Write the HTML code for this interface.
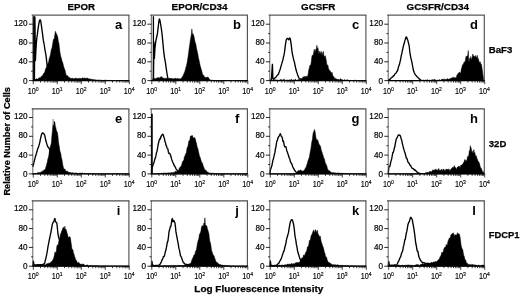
<!DOCTYPE html>
<html><head><meta charset="utf-8"><title>Figure</title>
<style>html,body{margin:0;padding:0;background:#fff;overflow:hidden}svg{display:block}</style></head>
<body>
<svg width="520" height="296" viewBox="0 0 520 296" font-family="Liberation Sans, Arial, Helvetica, sans-serif" fill="#000">
<rect width="520" height="296" fill="#fff"/>
<g>
<path d="M32.9 80.6L32.9 80.6L33.4 80.6L33.9 80.6L34.4 79.0L34.9 79.1L35.4 79.3L35.9 79.3L36.4 78.8L36.9 78.8L37.4 79.1L37.9 78.9L38.4 78.5L38.9 78.3L39.4 77.7L39.9 77.6L40.4 77.8L40.9 76.9L41.4 76.3L41.9 75.9L42.4 75.6L42.9 75.3L43.4 73.7L43.9 73.3L44.4 72.7L44.9 71.6L45.4 69.5L45.9 68.1L46.4 67.7L46.9 66.1L47.4 63.7L47.9 63.4L48.4 62.8L48.9 60.3L49.4 57.9L49.9 56.7L50.4 54.8L50.9 52.1L51.4 49.1L51.9 48.3L52.4 45.6L52.9 42.6L53.4 39.3L53.9 39.7L54.4 37.6L54.9 34.4L55.4 31.3L55.9 32.5L56.4 34.1L56.9 34.5L57.4 35.7L57.9 37.9L58.4 41.9L58.9 42.9L59.4 47.5L59.9 52.1L60.4 54.4L60.9 56.9L61.4 58.3L61.9 60.6L62.4 61.9L62.9 63.3L63.4 65.6L63.9 67.2L64.4 68.7L64.9 69.7L65.4 71.8L65.9 74.2L66.4 75.2L66.9 75.7L67.4 75.6L67.9 76.0L68.4 77.1L68.9 77.8L69.4 77.4L69.9 77.6L70.4 78.4L70.9 78.3L71.4 78.5L71.9 78.2L72.4 78.1L72.9 78.6L73.4 78.7L73.9 79.0L74.4 78.4L74.9 78.3L75.4 78.3L75.9 78.1L76.4 78.4L76.9 78.6L77.4 78.6L77.9 78.4L78.4 78.6L78.9 78.6L79.4 78.4L79.9 78.3L80.4 78.4L80.9 78.6L81.4 78.6L81.9 78.2L82.4 77.9L82.9 77.9L83.4 78.2L83.9 78.2L84.4 78.1L84.9 77.9L85.4 78.3L85.9 78.2L86.4 78.2L86.9 78.5L87.4 78.1L87.9 78.1L88.4 78.9L88.9 79.0L89.4 78.8L89.9 78.8L90.4 79.2L90.9 79.2L91.4 79.2L91.9 79.4L92.4 79.3L92.9 79.5L93.4 79.6L93.9 79.8L94.4 79.7L94.9 79.7L95.4 79.8L95.9 80.0L96.4 80.0L96.9 79.9L97.4 80.0L97.9 80.1L98.4 80.0L98.9 80.1L99.4 80.1L99.9 80.0L100.4 80.1L100.9 80.2L101.4 80.2L101.9 80.2L102.4 80.4L102.9 80.4L103.4 80.5L103.9 80.4L104.4 80.3L104.9 80.2L105.4 80.1L105.9 80.2L106.4 80.3L106.9 80.3L107.4 80.4L107.9 80.5L108.4 80.5L108.9 80.4L109.4 80.4L109.9 80.4L110.4 80.4L110.9 80.4L111.4 80.6L111.9 80.6L112.4 80.6L112.9 80.6L113.4 80.6L113.9 80.6L114.4 80.6L114.9 80.6L115.4 80.6L115.9 80.6L116.4 80.6L116.9 80.6L117.4 80.6L117.9 80.6L118.4 80.6L118.9 80.6L119.4 80.6L119.9 80.6L120.4 80.6L120.9 80.6L121.4 80.6L121.9 80.6L122.4 80.6L122.9 80.6L123.4 80.6L123.9 80.6L124.4 80.6L124.9 80.6L125.4 80.6L125.9 80.6L126.4 80.6L126.9 80.6L127.4 80.6L127.9 80.6L128.4 80.6L128.9 80.6L128.9 80.6Z" stroke="#000" stroke-width="0.5" stroke-linejoin="round"/>
<path d="M34.4 80.6L34.9 17.0L35.4 60.6L35.9 50.3L36.4 42.5L36.9 37.3L37.4 34.2L37.9 29.9L38.4 26.6L38.9 23.5L39.4 21.0L39.9 19.9L40.4 19.9L40.9 22.1L41.4 25.6L41.9 29.3L42.4 32.8L42.9 36.8L43.4 40.7L43.9 43.0L44.4 46.0L44.9 49.6L45.4 52.2L45.9 54.9L46.4 58.9L46.9 63.4L47.4 67.0L47.9 70.5L48.4 74.2L48.9 77.5L49.4 79.2L49.9 80.4L50.4 80.6" fill="none" stroke="#000" stroke-width="1.35" stroke-linejoin="round"/>
<path d="M31.7 15.1H129.4" fill="none" stroke="#222" stroke-width="0.95"/>
<path d="M128.9 15.1V80.6" fill="none" stroke="#505050" stroke-width="1.15"/>
<path d="M32.8 15.1V81.1" stroke="#444" stroke-width="0.85"/>
<path d="M34.0 16.2V80.6" stroke="#000" stroke-width="1.8"/>
<path d="M32.4 80.6H129.4" stroke="#000" stroke-width="1.3"/>
<path d="M32.9 80.6h-4M32.9 61.8h-4M32.9 43.0h-4M32.9 24.2h-4M32.9 71.2h-1.8M32.9 52.4h-1.8M32.9 33.6h-1.8" stroke="#111" stroke-width="0.9"/>
<path d="M33.3 80.6v3.6M40.5 80.6v2M44.8 80.6v2M47.7 80.6v2M50.1 80.6v2M52.0 80.6v2M53.6 80.6v2M55.0 80.6v2M56.2 80.6v2M57.3 80.6v3.6M64.5 80.6v2M68.8 80.6v2M71.7 80.6v2M74.1 80.6v2M76.0 80.6v2M77.6 80.6v2M79.0 80.6v2M80.2 80.6v2M81.3 80.6v3.6M88.5 80.6v2M92.8 80.6v2M95.7 80.6v2M98.1 80.6v2M100.0 80.6v2M101.6 80.6v2M103.0 80.6v2M104.2 80.6v2M105.3 80.6v3.6M112.5 80.6v2M116.8 80.6v2M119.7 80.6v2M122.1 80.6v2M124.0 80.6v2M125.6 80.6v2M127.0 80.6v2M128.2 80.6v2M129.3 80.6v3.6" stroke="#111" stroke-width="0.8"/>
<text x="27.6" y="83.8" font-size="8.2" text-anchor="end" stroke="#000" stroke-width="0.18">0</text>
<text x="27.6" y="64.4" font-size="8.2" text-anchor="end" stroke="#000" stroke-width="0.18">40</text>
<text x="27.6" y="45.1" font-size="8.2" text-anchor="end" stroke="#000" stroke-width="0.18">80</text>
<text x="27.6" y="25.7" font-size="8.2" text-anchor="end" stroke="#000" stroke-width="0.18">120</text>
<text x="33.1" y="93.5" font-size="8.3" text-anchor="middle" textLength="10.9" lengthAdjust="spacingAndGlyphs" stroke="#000" stroke-width="0.15">10<tspan font-size="5.8" dy="-2.7">0</tspan></text>
<text x="57.1" y="93.5" font-size="8.3" text-anchor="middle" textLength="10.9" lengthAdjust="spacingAndGlyphs" stroke="#000" stroke-width="0.15">10<tspan font-size="5.8" dy="-2.7">1</tspan></text>
<text x="81.1" y="93.5" font-size="8.3" text-anchor="middle" textLength="10.9" lengthAdjust="spacingAndGlyphs" stroke="#000" stroke-width="0.15">10<tspan font-size="5.8" dy="-2.7">2</tspan></text>
<text x="105.1" y="93.5" font-size="8.3" text-anchor="middle" textLength="10.9" lengthAdjust="spacingAndGlyphs" stroke="#000" stroke-width="0.15">10<tspan font-size="5.8" dy="-2.7">3</tspan></text>
<text x="129.1" y="93.5" font-size="8.3" text-anchor="middle" textLength="10.9" lengthAdjust="spacingAndGlyphs" stroke="#000" stroke-width="0.15">10<tspan font-size="5.8" dy="-2.7">4</tspan></text>
<text x="118.6" y="29.2" font-size="13" font-weight="bold" text-anchor="middle">a</text>
</g>
<g>
<path d="M151.4 80.6L151.4 80.6L151.9 80.6L152.4 80.6L152.9 78.7L153.4 78.6L153.9 78.4L154.4 78.4L154.9 78.4L155.4 78.6L155.9 78.4L156.4 78.2L156.9 78.0L157.4 77.6L157.9 78.1L158.4 77.7L158.9 77.6L159.4 77.9L159.9 77.6L160.4 77.3L160.9 77.0L161.4 76.4L161.9 77.4L162.4 77.8L162.9 77.6L163.4 77.9L163.9 78.4L164.4 78.4L164.9 78.3L165.4 78.3L165.9 78.5L166.4 78.2L166.9 78.3L167.4 78.3L167.9 78.7L168.4 79.3L168.9 78.8L169.4 78.5L169.9 78.5L170.4 78.6L170.9 78.7L171.4 78.8L171.9 78.5L172.4 78.7L172.9 78.9L173.4 78.8L173.9 78.7L174.4 78.2L174.9 78.6L175.4 78.3L175.9 78.4L176.4 78.7L176.9 78.8L177.4 78.6L177.9 78.3L178.4 78.7L178.9 78.8L179.4 78.8L179.9 78.9L180.4 79.0L180.9 78.6L181.4 77.9L181.9 77.4L182.4 76.9L182.9 76.0L183.4 74.8L183.9 73.8L184.4 72.4L184.9 71.2L185.4 69.4L185.9 67.4L186.4 65.9L186.9 63.6L187.4 61.1L187.9 57.8L188.4 54.3L188.9 50.4L189.4 46.6L189.9 43.5L190.4 39.6L190.9 37.1L191.4 34.0L191.9 28.9L192.4 35.0L192.9 33.5L193.4 34.8L193.9 36.1L194.4 38.4L194.9 41.2L195.4 43.0L195.9 44.3L196.4 47.7L196.9 50.1L197.4 52.1L197.9 54.6L198.4 57.7L198.9 59.6L199.4 62.0L199.9 64.5L200.4 66.5L200.9 68.1L201.4 69.9L201.9 71.5L202.4 73.7L202.9 74.8L203.4 75.1L203.9 75.7L204.4 76.9L204.9 77.3L205.4 77.3L205.9 77.6L206.4 77.5L206.9 77.2L207.4 77.3L207.9 76.9L208.4 77.4L208.9 78.4L209.4 79.1L209.9 79.8L210.4 80.0L210.9 80.1L211.4 80.2L211.9 80.2L212.4 80.2L212.9 80.4L213.4 80.4L213.9 80.6L214.4 80.6L214.9 80.6L215.4 80.6L215.9 80.6L216.4 80.6L216.9 80.6L217.4 80.6L217.9 80.6L218.4 80.6L218.9 80.6L219.4 80.6L219.9 80.6L220.4 80.6L220.9 80.6L221.4 80.6L221.9 80.6L222.4 80.6L222.9 80.6L223.4 80.6L223.9 80.6L224.4 80.6L224.9 80.6L225.4 80.6L225.9 80.6L226.4 80.6L226.9 80.6L227.4 80.6L227.9 80.6L228.4 80.6L228.9 80.6L229.4 80.6L229.9 80.6L230.4 80.6L230.9 80.6L231.4 80.6L231.9 80.6L232.4 80.6L232.9 80.6L233.4 80.6L233.9 80.6L234.4 80.6L234.9 80.6L235.4 80.6L235.9 80.6L236.4 80.6L236.9 80.6L237.4 80.6L237.9 80.6L238.4 80.6L238.9 80.6L239.4 80.6L239.9 80.6L240.4 80.6L240.9 80.6L241.4 80.6L241.9 80.6L242.4 80.6L242.9 80.6L243.4 80.6L243.9 80.6L244.4 80.6L244.9 80.6L245.4 80.6L245.9 80.6L246.4 80.6L246.9 80.6L247.4 80.6L247.4 80.6Z" stroke="#000" stroke-width="0.5" stroke-linejoin="round"/>
<path d="M153.4 80.6L153.9 41.9L154.4 58.4L154.9 48.8L155.4 44.5L155.9 40.7L156.4 38.4L156.9 36.0L157.4 34.0L157.9 29.7L158.4 25.5L158.9 21.0L159.4 19.0L159.9 20.0L160.4 23.0L160.9 25.9L161.4 28.8L161.9 33.0L162.4 37.6L162.9 42.9L163.4 48.4L163.9 53.2L164.4 56.8L164.9 59.8L165.4 62.3L165.9 66.2L166.4 69.6L166.9 73.0L167.4 75.8L167.9 78.4L168.4 79.3L168.9 79.2L169.4 79.2L169.9 79.2L170.4 79.2L170.9 79.1L171.4 79.2L171.9 79.5L172.4 79.5L172.9 79.7L173.4 79.9L173.9 80.0L174.4 80.2L174.9 80.5L175.4 80.6" fill="none" stroke="#000" stroke-width="1.35" stroke-linejoin="round"/>
<path d="M150.2 15.1H247.9" fill="none" stroke="#222" stroke-width="0.95"/>
<path d="M247.4 15.1V80.6" fill="none" stroke="#505050" stroke-width="1.15"/>
<path d="M151.3 15.1V81.1" stroke="#444" stroke-width="0.85"/>
<path d="M153.4 16.2V80.6" stroke="#000" stroke-width="1.3"/>
<path d="M150.9 80.6H247.9" stroke="#000" stroke-width="1.3"/>
<path d="M151.4 80.6h-4M151.4 61.8h-4M151.4 43.0h-4M151.4 24.2h-4M151.4 71.2h-1.8M151.4 52.4h-1.8M151.4 33.6h-1.8" stroke="#111" stroke-width="0.9"/>
<path d="M151.8 80.6v3.6M159.0 80.6v2M163.3 80.6v2M166.2 80.6v2M168.6 80.6v2M170.5 80.6v2M172.1 80.6v2M173.5 80.6v2M174.7 80.6v2M175.8 80.6v3.6M183.0 80.6v2M187.3 80.6v2M190.2 80.6v2M192.6 80.6v2M194.5 80.6v2M196.1 80.6v2M197.5 80.6v2M198.7 80.6v2M199.8 80.6v3.6M207.0 80.6v2M211.3 80.6v2M214.2 80.6v2M216.6 80.6v2M218.5 80.6v2M220.1 80.6v2M221.5 80.6v2M222.7 80.6v2M223.8 80.6v3.6M231.0 80.6v2M235.3 80.6v2M238.2 80.6v2M240.6 80.6v2M242.5 80.6v2M244.1 80.6v2M245.5 80.6v2M246.7 80.6v2M247.8 80.6v3.6" stroke="#111" stroke-width="0.8"/>
<text x="146.1" y="83.8" font-size="8.2" text-anchor="end" stroke="#000" stroke-width="0.18">0</text>
<text x="146.1" y="64.4" font-size="8.2" text-anchor="end" stroke="#000" stroke-width="0.18">40</text>
<text x="146.1" y="45.1" font-size="8.2" text-anchor="end" stroke="#000" stroke-width="0.18">80</text>
<text x="146.1" y="25.7" font-size="8.2" text-anchor="end" stroke="#000" stroke-width="0.18">120</text>
<text x="151.6" y="93.5" font-size="8.3" text-anchor="middle" textLength="10.9" lengthAdjust="spacingAndGlyphs" stroke="#000" stroke-width="0.15">10<tspan font-size="5.8" dy="-2.7">0</tspan></text>
<text x="175.6" y="93.5" font-size="8.3" text-anchor="middle" textLength="10.9" lengthAdjust="spacingAndGlyphs" stroke="#000" stroke-width="0.15">10<tspan font-size="5.8" dy="-2.7">1</tspan></text>
<text x="199.6" y="93.5" font-size="8.3" text-anchor="middle" textLength="10.9" lengthAdjust="spacingAndGlyphs" stroke="#000" stroke-width="0.15">10<tspan font-size="5.8" dy="-2.7">2</tspan></text>
<text x="223.6" y="93.5" font-size="8.3" text-anchor="middle" textLength="10.9" lengthAdjust="spacingAndGlyphs" stroke="#000" stroke-width="0.15">10<tspan font-size="5.8" dy="-2.7">3</tspan></text>
<text x="247.6" y="93.5" font-size="8.3" text-anchor="middle" textLength="10.9" lengthAdjust="spacingAndGlyphs" stroke="#000" stroke-width="0.15">10<tspan font-size="5.8" dy="-2.7">4</tspan></text>
<text x="237.1" y="29.2" font-size="13" font-weight="bold" text-anchor="middle">b</text>
</g>
<g>
<path d="M269.9 80.6L269.9 80.6L270.4 80.6L270.9 80.6L271.4 80.6L271.9 80.5L272.4 80.2L272.9 79.7L273.4 79.6L273.9 79.6L274.4 79.8L274.9 80.1L275.4 79.9L275.9 79.8L276.4 79.9L276.9 80.2L277.4 80.1L277.9 79.9L278.4 80.2L278.9 80.2L279.4 80.3L279.9 79.7L280.4 79.5L280.9 79.8L281.4 79.7L281.9 79.7L282.4 80.0L282.9 80.0L283.4 79.9L283.9 78.9L284.4 79.6L284.9 80.6L285.4 80.1L285.9 80.1L286.4 80.5L286.9 79.8L287.4 79.9L287.9 80.4L288.4 80.1L288.9 80.2L289.4 79.9L289.9 80.0L290.4 80.0L290.9 79.5L291.4 79.1L291.9 80.2L292.4 80.4L292.9 80.1L293.4 79.7L293.9 79.9L294.4 80.2L294.9 79.6L295.4 79.3L295.9 79.6L296.4 80.5L296.9 80.3L297.4 80.3L297.9 79.6L298.4 79.4L298.9 79.7L299.4 79.6L299.9 79.6L300.4 79.9L300.9 79.2L301.4 78.5L301.9 79.5L302.4 78.2L302.9 76.9L303.4 77.1L303.9 76.6L304.4 77.0L304.9 76.2L305.4 76.5L305.9 77.8L306.4 76.3L306.9 76.0L307.4 76.9L307.9 75.3L308.4 72.4L308.9 69.3L309.4 67.5L309.9 65.3L310.4 65.2L310.9 64.6L311.4 60.4L311.9 56.4L312.4 55.1L312.9 55.5L313.4 54.3L313.9 51.0L314.4 49.3L314.9 52.5L315.4 50.7L315.9 48.9L316.4 49.3L316.9 45.3L317.4 49.3L317.9 47.7L318.4 50.6L318.9 54.1L319.4 52.6L319.9 51.1L320.4 53.7L320.9 52.8L321.4 51.6L321.9 54.5L322.4 54.8L322.9 51.9L323.4 51.4L323.9 56.1L324.4 56.2L324.9 56.9L325.4 55.7L325.9 58.8L326.4 61.3L326.9 65.2L327.4 64.8L327.9 65.4L328.4 68.1L328.9 69.4L329.4 69.9L329.9 71.1L330.4 71.1L330.9 72.4L331.4 73.8L331.9 72.0L332.4 74.0L332.9 75.8L333.4 76.3L333.9 77.1L334.4 77.6L334.9 78.8L335.4 78.5L335.9 78.4L336.4 78.8L336.9 79.5L337.4 79.0L337.9 79.5L338.4 79.6L338.9 79.6L339.4 80.1L339.9 79.2L340.4 78.7L340.9 78.9L341.4 79.4L341.9 79.9L342.4 79.8L342.9 79.8L343.4 80.4L343.9 79.9L344.4 79.5L344.9 80.0L345.4 80.4L345.9 80.2L346.4 80.1L346.9 79.6L347.4 79.8L347.9 80.3L348.4 80.2L348.9 80.4L349.4 80.6L349.9 80.3L350.4 80.3L350.9 80.6L351.4 80.6L351.9 80.5L352.4 80.6L352.9 80.5L353.4 80.4L353.9 80.4L354.4 80.5L354.9 80.4L355.4 80.1L355.9 80.1L356.4 80.5L356.9 80.6L357.4 80.5L357.9 80.4L358.4 80.6L358.9 80.6L359.4 80.6L359.9 80.6L360.4 80.6L360.9 80.6L361.4 80.6L361.9 80.6L362.4 80.6L362.9 80.6L363.4 80.6L363.9 80.6L364.4 80.6L364.9 80.6L365.4 80.6L365.9 80.6L365.9 80.6Z" stroke="#000" stroke-width="0.5" stroke-linejoin="round"/>
<path d="M269.9 80.6L270.4 79.8L270.9 79.7L271.4 79.3L271.9 72.0L272.4 64.3L272.9 78.6L273.4 79.1L273.9 79.1L274.4 78.6L274.9 78.0L275.4 77.6L275.9 77.2L276.4 76.5L276.9 75.7L277.4 75.3L277.9 74.7L278.4 74.2L278.9 72.7L279.4 71.5L279.9 70.1L280.4 68.7L280.9 66.7L281.4 64.8L281.9 63.4L282.4 61.3L282.9 59.9L283.4 57.3L283.9 55.4L284.4 52.8L284.9 48.9L285.4 45.1L285.9 41.7L286.4 39.4L286.9 38.8L287.4 38.4L287.9 38.6L288.4 39.5L288.9 39.8L289.4 38.1L289.9 38.0L290.4 39.3L290.9 42.6L291.4 46.1L291.9 51.1L292.4 54.0L292.9 56.1L293.4 58.7L293.9 60.6L294.4 62.1L294.9 64.6L295.4 67.0L295.9 69.3L296.4 71.0L296.9 72.6L297.4 74.1L297.9 75.6L298.4 76.7L298.9 77.8L299.4 78.5L299.9 78.9L300.4 79.0L300.9 79.2L301.4 79.4L301.9 79.3L302.4 79.2L302.9 79.3L303.4 79.7L303.9 79.7L304.4 79.7L304.9 79.7L305.4 79.7L305.9 79.5L306.4 79.7L306.9 79.9L307.4 79.9L307.9 80.0L308.4 80.2L308.9 80.3L309.4 80.5L309.9 80.6L310.4 80.6" fill="none" stroke="#000" stroke-width="1.35" stroke-linejoin="round"/>
<path d="M268.7 15.1H366.4" fill="none" stroke="#222" stroke-width="0.95"/>
<path d="M365.9 15.1V80.6" fill="none" stroke="#505050" stroke-width="1.15"/>
<path d="M269.8 15.1V81.1" stroke="#444" stroke-width="0.85"/>
<path d="M269.4 80.6H366.4" stroke="#000" stroke-width="1.3"/>
<path d="M269.9 80.6h-4M269.9 61.8h-4M269.9 43.0h-4M269.9 24.2h-4M269.9 71.2h-1.8M269.9 52.4h-1.8M269.9 33.6h-1.8" stroke="#111" stroke-width="0.9"/>
<path d="M270.3 80.6v3.6M277.5 80.6v2M281.8 80.6v2M284.7 80.6v2M287.1 80.6v2M289.0 80.6v2M290.6 80.6v2M292.0 80.6v2M293.2 80.6v2M294.3 80.6v3.6M301.5 80.6v2M305.8 80.6v2M308.7 80.6v2M311.1 80.6v2M313.0 80.6v2M314.6 80.6v2M316.0 80.6v2M317.2 80.6v2M318.3 80.6v3.6M325.5 80.6v2M329.8 80.6v2M332.7 80.6v2M335.1 80.6v2M337.0 80.6v2M338.6 80.6v2M340.0 80.6v2M341.2 80.6v2M342.3 80.6v3.6M349.5 80.6v2M353.8 80.6v2M356.7 80.6v2M359.1 80.6v2M361.0 80.6v2M362.6 80.6v2M364.0 80.6v2M365.2 80.6v2M366.3 80.6v3.6" stroke="#111" stroke-width="0.8"/>
<text x="264.6" y="83.8" font-size="8.2" text-anchor="end" stroke="#000" stroke-width="0.18">0</text>
<text x="264.6" y="64.4" font-size="8.2" text-anchor="end" stroke="#000" stroke-width="0.18">40</text>
<text x="264.6" y="45.1" font-size="8.2" text-anchor="end" stroke="#000" stroke-width="0.18">80</text>
<text x="264.6" y="25.7" font-size="8.2" text-anchor="end" stroke="#000" stroke-width="0.18">120</text>
<text x="270.1" y="93.5" font-size="8.3" text-anchor="middle" textLength="10.9" lengthAdjust="spacingAndGlyphs" stroke="#000" stroke-width="0.15">10<tspan font-size="5.8" dy="-2.7">0</tspan></text>
<text x="294.1" y="93.5" font-size="8.3" text-anchor="middle" textLength="10.9" lengthAdjust="spacingAndGlyphs" stroke="#000" stroke-width="0.15">10<tspan font-size="5.8" dy="-2.7">1</tspan></text>
<text x="318.1" y="93.5" font-size="8.3" text-anchor="middle" textLength="10.9" lengthAdjust="spacingAndGlyphs" stroke="#000" stroke-width="0.15">10<tspan font-size="5.8" dy="-2.7">2</tspan></text>
<text x="342.1" y="93.5" font-size="8.3" text-anchor="middle" textLength="10.9" lengthAdjust="spacingAndGlyphs" stroke="#000" stroke-width="0.15">10<tspan font-size="5.8" dy="-2.7">3</tspan></text>
<text x="366.1" y="93.5" font-size="8.3" text-anchor="middle" textLength="10.9" lengthAdjust="spacingAndGlyphs" stroke="#000" stroke-width="0.15">10<tspan font-size="5.8" dy="-2.7">4</tspan></text>
<text x="355.6" y="29.2" font-size="13" font-weight="bold" text-anchor="middle">c</text>
</g>
<g>
<path d="M388.3 80.6L388.3 80.6L388.8 80.6L389.3 80.6L389.8 80.6L390.3 80.6L390.8 80.6L391.3 80.6L391.8 80.6L392.3 80.6L392.8 80.6L393.3 80.6L393.8 80.6L394.3 80.6L394.8 80.6L395.3 80.6L395.8 80.6L396.3 80.6L396.8 80.6L397.3 80.6L397.8 80.6L398.3 80.6L398.8 80.6L399.3 80.6L399.8 80.6L400.3 80.6L400.8 80.6L401.3 80.6L401.8 80.6L402.3 80.6L402.8 80.6L403.3 80.6L403.8 80.6L404.3 80.6L404.8 80.6L405.3 80.6L405.8 80.6L406.3 80.6L406.8 80.6L407.3 80.6L407.8 80.6L408.3 80.6L408.8 80.6L409.3 80.6L409.8 80.6L410.3 80.6L410.8 80.6L411.3 80.6L411.8 80.6L412.3 80.6L412.8 80.6L413.3 80.6L413.8 80.6L414.3 80.6L414.8 80.6L415.3 80.6L415.8 80.6L416.3 80.6L416.8 80.6L417.3 80.6L417.8 80.6L418.3 80.4L418.8 80.5L419.3 80.6L419.8 80.2L420.3 80.2L420.8 79.9L421.3 80.0L421.8 80.1L422.3 80.0L422.8 80.4L423.3 80.2L423.8 80.0L424.3 80.3L424.8 80.3L425.3 80.1L425.8 80.0L426.3 80.0L426.8 80.0L427.3 79.8L427.8 80.0L428.3 80.2L428.8 80.3L429.3 80.1L429.8 80.2L430.3 80.5L430.8 80.6L431.3 79.9L431.8 79.8L432.3 79.7L432.8 79.7L433.3 80.0L433.8 79.6L434.3 79.4L434.8 79.2L435.3 80.0L435.8 80.3L436.3 80.0L436.8 80.5L437.3 80.2L437.8 80.1L438.3 80.3L438.8 80.4L439.3 79.7L439.8 79.5L440.3 80.2L440.8 80.6L441.3 79.7L441.8 79.1L442.3 79.5L442.8 79.0L443.3 79.1L443.8 79.4L444.3 79.1L444.8 79.4L445.3 79.8L445.8 79.2L446.3 79.1L446.8 79.4L447.3 78.7L447.8 78.7L448.3 79.5L448.8 79.0L449.3 78.8L449.8 78.9L450.3 79.0L450.8 78.2L451.3 78.2L451.8 77.7L452.3 77.5L452.8 78.2L453.3 77.5L453.8 76.9L454.3 77.5L454.8 78.3L455.3 77.8L455.8 77.4L456.3 78.1L456.8 75.2L457.3 75.0L457.8 74.0L458.3 72.9L458.8 72.9L459.3 72.5L459.8 71.9L460.3 72.9L460.8 73.2L461.3 69.1L461.8 67.8L462.3 65.5L462.8 64.4L463.3 64.3L463.8 63.0L464.3 61.7L464.8 62.4L465.3 60.8L465.8 57.4L466.3 56.0L466.8 57.6L467.3 55.7L467.8 55.1L468.3 50.5L468.8 61.4L469.3 60.8L469.8 58.1L470.3 58.9L470.8 56.6L471.3 59.5L471.8 58.8L472.3 56.5L472.8 54.0L473.3 55.9L473.8 56.3L474.3 56.6L474.8 56.3L475.3 55.4L475.8 56.7L476.3 57.2L476.8 57.0L477.3 55.3L477.8 58.9L478.3 58.6L478.8 60.4L479.3 62.1L479.8 63.0L480.3 61.8L480.8 64.6L481.3 64.0L481.8 66.7L482.3 70.0L482.8 73.7L483.3 77.1L483.8 80.6L484.3 80.6L484.3 80.6Z" stroke="#000" stroke-width="0.5" stroke-linejoin="round"/>
<path d="M388.3 80.6L388.8 79.6L389.3 79.5L389.8 79.4L390.3 78.9L390.8 78.2L391.3 77.8L391.8 77.5L392.3 76.9L392.8 76.8L393.3 75.9L393.8 75.6L394.3 75.3L394.8 74.0L395.3 73.7L395.8 73.3L396.3 72.6L396.8 71.5L397.3 71.0L397.8 69.9L398.3 67.6L398.8 66.1L399.3 64.8L399.8 62.8L400.3 60.7L400.8 58.3L401.3 55.4L401.8 53.7L402.3 51.0L402.8 48.8L403.3 46.5L403.8 44.5L404.3 43.1L404.8 40.9L405.3 39.4L405.8 37.4L406.3 37.0L406.8 37.4L407.3 39.4L407.8 40.1L408.3 42.3L408.8 44.3L409.3 46.7L409.8 51.9L410.3 55.0L410.8 57.6L411.3 59.8L411.8 61.7L412.3 64.5L412.8 67.2L413.3 69.8L413.8 71.6L414.3 72.8L414.8 73.7L415.3 74.7L415.8 75.2L416.3 75.6L416.8 76.4L417.3 77.0L417.8 77.3L418.3 77.9L418.8 78.5L419.3 78.8L419.8 79.2L420.3 79.8L420.8 80.4L421.3 80.6" fill="none" stroke="#000" stroke-width="1.35" stroke-linejoin="round"/>
<path d="M387.1 15.1H484.8" fill="none" stroke="#222" stroke-width="0.95"/>
<path d="M484.3 15.1V80.6" fill="none" stroke="#505050" stroke-width="1.15"/>
<path d="M388.2 15.1V81.1" stroke="#444" stroke-width="0.85"/>
<path d="M387.8 80.6H484.8" stroke="#000" stroke-width="1.3"/>
<path d="M388.3 80.6h-4M388.3 61.8h-4M388.3 43.0h-4M388.3 24.2h-4M388.3 71.2h-1.8M388.3 52.4h-1.8M388.3 33.6h-1.8" stroke="#111" stroke-width="0.9"/>
<path d="M388.7 80.6v3.6M395.9 80.6v2M400.2 80.6v2M403.1 80.6v2M405.5 80.6v2M407.4 80.6v2M409.0 80.6v2M410.4 80.6v2M411.6 80.6v2M412.7 80.6v3.6M419.9 80.6v2M424.2 80.6v2M427.1 80.6v2M429.5 80.6v2M431.4 80.6v2M433.0 80.6v2M434.4 80.6v2M435.6 80.6v2M436.7 80.6v3.6M443.9 80.6v2M448.2 80.6v2M451.1 80.6v2M453.5 80.6v2M455.4 80.6v2M457.0 80.6v2M458.4 80.6v2M459.6 80.6v2M460.7 80.6v3.6M467.9 80.6v2M472.2 80.6v2M475.1 80.6v2M477.5 80.6v2M479.4 80.6v2M481.0 80.6v2M482.4 80.6v2M483.6 80.6v2M484.7 80.6v3.6" stroke="#111" stroke-width="0.8"/>
<text x="383.0" y="83.8" font-size="8.2" text-anchor="end" stroke="#000" stroke-width="0.18">0</text>
<text x="383.0" y="64.4" font-size="8.2" text-anchor="end" stroke="#000" stroke-width="0.18">40</text>
<text x="383.0" y="45.1" font-size="8.2" text-anchor="end" stroke="#000" stroke-width="0.18">80</text>
<text x="383.0" y="25.7" font-size="8.2" text-anchor="end" stroke="#000" stroke-width="0.18">120</text>
<text x="388.5" y="93.5" font-size="8.3" text-anchor="middle" textLength="10.9" lengthAdjust="spacingAndGlyphs" stroke="#000" stroke-width="0.15">10<tspan font-size="5.8" dy="-2.7">0</tspan></text>
<text x="412.5" y="93.5" font-size="8.3" text-anchor="middle" textLength="10.9" lengthAdjust="spacingAndGlyphs" stroke="#000" stroke-width="0.15">10<tspan font-size="5.8" dy="-2.7">1</tspan></text>
<text x="436.5" y="93.5" font-size="8.3" text-anchor="middle" textLength="10.9" lengthAdjust="spacingAndGlyphs" stroke="#000" stroke-width="0.15">10<tspan font-size="5.8" dy="-2.7">2</tspan></text>
<text x="460.5" y="93.5" font-size="8.3" text-anchor="middle" textLength="10.9" lengthAdjust="spacingAndGlyphs" stroke="#000" stroke-width="0.15">10<tspan font-size="5.8" dy="-2.7">3</tspan></text>
<text x="484.5" y="93.5" font-size="8.3" text-anchor="middle" textLength="10.9" lengthAdjust="spacingAndGlyphs" stroke="#000" stroke-width="0.15">10<tspan font-size="5.8" dy="-2.7">4</tspan></text>
<text x="474.0" y="29.2" font-size="13" font-weight="bold" text-anchor="middle">d</text>
</g>
<g>
<path d="M32.9 173.9L32.9 173.9L33.4 173.9L33.9 173.8L34.4 173.5L34.9 173.6L35.4 173.6L35.9 173.2L36.4 173.4L36.9 173.2L37.4 172.8L37.9 172.7L38.4 172.6L38.9 172.6L39.4 172.7L39.9 172.4L40.4 172.5L40.9 172.0L41.4 171.7L41.9 171.9L42.4 171.2L42.9 170.6L43.4 170.7L43.9 170.6L44.4 169.7L44.9 169.6L45.4 169.1L45.9 167.0L46.4 165.5L46.9 163.4L47.4 161.5L47.9 158.7L48.4 157.6L48.9 154.7L49.4 151.3L49.9 148.8L50.4 146.1L50.9 145.1L51.4 142.5L51.9 136.1L52.4 130.8L52.9 124.9L53.4 125.3L53.9 122.2L54.4 121.3L54.9 122.6L55.4 126.8L55.9 127.7L56.4 131.1L56.9 131.3L57.4 132.5L57.9 135.7L58.4 141.1L58.9 144.7L59.4 147.1L59.9 151.0L60.4 152.3L60.9 154.2L61.4 157.9L61.9 159.2L62.4 162.5L62.9 165.4L63.4 167.5L63.9 169.0L64.4 169.2L64.9 168.9L65.4 170.1L65.9 171.0L66.4 171.3L66.9 171.3L67.4 171.1L67.9 171.7L68.4 172.3L68.9 172.2L69.4 172.2L69.9 172.5L70.4 172.6L70.9 172.8L71.4 172.8L71.9 173.0L72.4 172.7L72.9 172.4L73.4 173.1L73.9 173.5L74.4 173.3L74.9 173.1L75.4 172.9L75.9 173.0L76.4 173.0L76.9 173.3L77.4 173.4L77.9 173.3L78.4 173.4L78.9 173.5L79.4 173.3L79.9 173.2L80.4 173.1L80.9 173.5L81.4 173.3L81.9 173.0L82.4 172.9L82.9 173.2L83.4 173.5L83.9 173.4L84.4 173.4L84.9 173.3L85.4 173.7L85.9 173.7L86.4 173.5L86.9 173.6L87.4 173.7L87.9 173.5L88.4 173.4L88.9 173.7L89.4 173.5L89.9 173.6L90.4 173.8L90.9 173.8L91.4 173.8L91.9 173.7L92.4 173.7L92.9 173.7L93.4 173.8L93.9 173.7L94.4 173.8L94.9 173.8L95.4 173.9L95.9 173.9L96.4 173.9L96.9 173.9L97.4 173.9L97.9 173.9L98.4 173.9L98.9 173.9L99.4 173.9L99.9 173.9L100.4 173.9L100.9 173.9L101.4 173.9L101.9 173.9L102.4 173.9L102.9 173.9L103.4 173.9L103.9 173.9L104.4 173.9L104.9 173.9L105.4 173.9L105.9 173.9L106.4 173.9L106.9 173.9L107.4 173.9L107.9 173.9L108.4 173.9L108.9 173.9L109.4 173.9L109.9 173.9L110.4 173.9L110.9 173.9L111.4 173.9L111.9 173.9L112.4 173.9L112.9 173.9L113.4 173.9L113.9 173.9L114.4 173.9L114.9 173.9L115.4 173.9L115.9 173.9L116.4 173.9L116.9 173.9L117.4 173.9L117.9 173.9L118.4 173.9L118.9 173.9L119.4 173.9L119.9 173.9L120.4 173.9L120.9 173.9L121.4 173.9L121.9 173.9L122.4 173.9L122.9 173.9L123.4 173.9L123.9 173.9L124.4 173.9L124.9 173.9L125.4 173.9L125.9 173.9L126.4 173.9L126.9 173.9L127.4 173.9L127.9 173.9L128.4 173.9L128.9 173.9L128.9 173.9Z" stroke="#000" stroke-width="0.5" stroke-linejoin="round"/>
<path d="M32.9 166.9L33.4 164.9L33.9 162.6L34.4 160.7L34.9 158.7L35.4 156.6L35.9 155.3L36.4 153.3L36.9 151.8L37.4 149.8L37.9 148.2L38.4 147.3L38.9 145.7L39.4 143.8L39.9 141.8L40.4 139.1L40.9 137.0L41.4 134.9L41.9 133.7L42.4 133.0L42.9 132.9L43.4 133.4L43.9 133.8L44.4 134.8L44.9 136.0L45.4 138.6L45.9 140.8L46.4 142.6L46.9 144.1L47.4 146.1L47.9 146.7L48.4 147.5L48.9 148.2L49.4 148.7L49.9 150.3L50.4 154.3L50.9 157.3L51.4 159.8L51.9 162.4L52.4 165.0L52.9 167.2L53.4 168.9L53.9 170.2L54.4 171.4L54.9 172.5L55.4 173.2L55.9 173.9L56.4 173.9" fill="none" stroke="#000" stroke-width="1.35" stroke-linejoin="round"/>
<path d="M31.7 108.9H129.4" fill="none" stroke="#4a4a4a" stroke-width="1.25"/>
<path d="M128.9 108.9V173.9" fill="none" stroke="#505050" stroke-width="1.15"/>
<path d="M32.8 108.9V174.4" stroke="#444" stroke-width="0.85"/>
<path d="M53.1 125.5V118.9" stroke="#8a8a8a" stroke-width="1.1"/>
<path d="M32.4 173.9H129.4" stroke="#000" stroke-width="1.3"/>
<path d="M32.9 173.9h-4M32.9 155.1h-4M32.9 136.3h-4M32.9 117.5h-4M32.9 164.5h-1.8M32.9 145.7h-1.8M32.9 126.9h-1.8" stroke="#111" stroke-width="0.9"/>
<path d="M33.3 173.9v3.6M40.5 173.9v2M44.8 173.9v2M47.7 173.9v2M50.1 173.9v2M52.0 173.9v2M53.6 173.9v2M55.0 173.9v2M56.2 173.9v2M57.3 173.9v3.6M64.5 173.9v2M68.8 173.9v2M71.7 173.9v2M74.1 173.9v2M76.0 173.9v2M77.6 173.9v2M79.0 173.9v2M80.2 173.9v2M81.3 173.9v3.6M88.5 173.9v2M92.8 173.9v2M95.7 173.9v2M98.1 173.9v2M100.0 173.9v2M101.6 173.9v2M103.0 173.9v2M104.2 173.9v2M105.3 173.9v3.6M112.5 173.9v2M116.8 173.9v2M119.7 173.9v2M122.1 173.9v2M124.0 173.9v2M125.6 173.9v2M127.0 173.9v2M128.2 173.9v2M129.3 173.9v3.6" stroke="#111" stroke-width="0.8"/>
<text x="27.6" y="177.1" font-size="8.2" text-anchor="end" stroke="#000" stroke-width="0.18">0</text>
<text x="27.6" y="157.7" font-size="8.2" text-anchor="end" stroke="#000" stroke-width="0.18">40</text>
<text x="27.6" y="138.4" font-size="8.2" text-anchor="end" stroke="#000" stroke-width="0.18">80</text>
<text x="27.6" y="119.0" font-size="8.2" text-anchor="end" stroke="#000" stroke-width="0.18">120</text>
<text x="33.1" y="186.8" font-size="8.3" text-anchor="middle" textLength="10.9" lengthAdjust="spacingAndGlyphs" stroke="#000" stroke-width="0.15">10<tspan font-size="5.8" dy="-2.7">0</tspan></text>
<text x="57.1" y="186.8" font-size="8.3" text-anchor="middle" textLength="10.9" lengthAdjust="spacingAndGlyphs" stroke="#000" stroke-width="0.15">10<tspan font-size="5.8" dy="-2.7">1</tspan></text>
<text x="81.1" y="186.8" font-size="8.3" text-anchor="middle" textLength="10.9" lengthAdjust="spacingAndGlyphs" stroke="#000" stroke-width="0.15">10<tspan font-size="5.8" dy="-2.7">2</tspan></text>
<text x="105.1" y="186.8" font-size="8.3" text-anchor="middle" textLength="10.9" lengthAdjust="spacingAndGlyphs" stroke="#000" stroke-width="0.15">10<tspan font-size="5.8" dy="-2.7">3</tspan></text>
<text x="129.1" y="186.8" font-size="8.3" text-anchor="middle" textLength="10.9" lengthAdjust="spacingAndGlyphs" stroke="#000" stroke-width="0.15">10<tspan font-size="5.8" dy="-2.7">4</tspan></text>
<text x="118.6" y="123.0" font-size="13" font-weight="bold" text-anchor="middle">e</text>
</g>
<g>
<path d="M151.4 173.9L151.4 173.9L151.9 173.9L152.4 173.9L152.9 173.9L153.4 173.9L153.9 173.9L154.4 173.9L154.9 173.9L155.4 173.9L155.9 173.9L156.4 173.9L156.9 173.9L157.4 173.5L157.9 173.6L158.4 173.7L158.9 173.4L159.4 173.6L159.9 173.8L160.4 173.6L160.9 173.5L161.4 173.3L161.9 173.2L162.4 173.3L162.9 173.1L163.4 173.0L163.9 173.0L164.4 173.1L164.9 173.2L165.4 173.1L165.9 173.0L166.4 173.0L166.9 173.1L167.4 173.0L167.9 172.9L168.4 172.8L168.9 173.1L169.4 173.1L169.9 172.8L170.4 172.8L170.9 172.8L171.4 172.6L171.9 172.7L172.4 172.6L172.9 172.8L173.4 172.4L173.9 172.4L174.4 172.5L174.9 171.6L175.4 171.3L175.9 171.4L176.4 171.5L176.9 171.5L177.4 171.5L177.9 171.0L178.4 170.8L178.9 169.4L179.4 167.9L179.9 167.8L180.4 166.8L180.9 166.6L181.4 165.7L181.9 163.9L182.4 162.2L182.9 161.1L183.4 160.8L183.9 159.7L184.4 156.5L184.9 156.6L185.4 154.2L185.9 153.6L186.4 152.6L186.9 148.8L187.4 147.1L187.9 146.4L188.4 143.4L188.9 140.7L189.4 140.9L189.9 139.7L190.4 136.1L190.9 136.0L191.4 136.0L191.9 135.4L192.4 135.6L192.9 137.0L193.4 138.4L193.9 137.6L194.4 137.8L194.9 137.8L195.4 139.2L195.9 141.4L196.4 142.9L196.9 145.6L197.4 147.7L197.9 148.5L198.4 151.3L198.9 153.2L199.4 155.8L199.9 156.8L200.4 158.1L200.9 160.1L201.4 161.6L201.9 163.0L202.4 162.9L202.9 164.8L203.4 166.4L203.9 167.4L204.4 168.9L204.9 170.0L205.4 170.0L205.9 170.2L206.4 170.8L206.9 171.7L207.4 172.0L207.9 172.2L208.4 172.4L208.9 172.7L209.4 173.1L209.9 173.1L210.4 173.3L210.9 173.1L211.4 173.2L211.9 173.3L212.4 173.3L212.9 173.2L213.4 173.3L213.9 173.7L214.4 173.8L214.9 173.8L215.4 173.7L215.9 173.7L216.4 173.6L216.9 173.7L217.4 173.8L217.9 173.9L218.4 173.9L218.9 173.9L219.4 173.9L219.9 173.9L220.4 173.9L220.9 173.9L221.4 173.9L221.9 173.9L222.4 173.9L222.9 173.9L223.4 173.9L223.9 173.9L224.4 173.9L224.9 173.9L225.4 173.9L225.9 173.9L226.4 173.9L226.9 173.9L227.4 173.9L227.9 173.9L228.4 173.9L228.9 173.9L229.4 173.9L229.9 173.9L230.4 173.9L230.9 173.9L231.4 173.9L231.9 173.9L232.4 173.9L232.9 173.9L233.4 173.9L233.9 173.9L234.4 173.9L234.9 173.9L235.4 173.9L235.9 173.9L236.4 173.9L236.9 173.9L237.4 173.9L237.9 173.9L238.4 173.9L238.9 173.9L239.4 173.9L239.9 173.9L240.4 173.9L240.9 173.9L241.4 173.9L241.9 173.9L242.4 173.9L242.9 173.9L243.4 173.9L243.9 173.9L244.4 173.9L244.9 173.9L245.4 173.9L245.9 173.9L246.4 173.9L246.9 173.9L247.4 173.9L247.4 173.9Z" stroke="#000" stroke-width="0.5" stroke-linejoin="round"/>
<path d="M151.4 173.9L151.9 168.7L152.4 167.1L152.9 165.6L153.4 163.7L153.9 162.8L154.4 160.9L154.9 158.9L155.4 157.8L155.9 155.9L156.4 153.1L156.9 151.5L157.4 149.3L157.9 146.0L158.4 143.5L158.9 141.5L159.4 139.6L159.9 138.4L160.4 139.0L160.9 136.4L161.4 136.1L161.9 135.2L162.4 134.2L162.9 134.3L163.4 135.1L163.9 137.2L164.4 138.3L164.9 141.3L165.4 142.3L165.9 145.0L166.4 145.7L166.9 147.4L167.4 148.9L167.9 149.0L168.4 152.2L168.9 153.5L169.4 153.2L169.9 153.8L170.4 154.8L170.9 156.5L171.4 158.3L171.9 159.9L172.4 161.3L172.9 162.6L173.4 163.5L173.9 164.9L174.4 166.0L174.9 166.4L175.4 167.3L175.9 168.6L176.4 169.5L176.9 169.8L177.4 170.6L177.9 171.6L178.4 172.0L178.9 172.0L179.4 172.3L179.9 172.8L180.4 172.9L180.9 173.3L181.4 173.3L181.9 173.9" fill="none" stroke="#000" stroke-width="1.35" stroke-linejoin="round"/>
<path d="M150.2 108.9H247.9" fill="none" stroke="#4a4a4a" stroke-width="1.25"/>
<path d="M247.4 108.9V173.9" fill="none" stroke="#505050" stroke-width="1.15"/>
<path d="M151.3 108.9V174.4" stroke="#444" stroke-width="0.85"/>
<path d="M151.9 113.7V173.9" stroke="#000" stroke-width="1.7"/>
<path d="M150.9 173.9H247.9" stroke="#000" stroke-width="1.3"/>
<path d="M151.4 173.9h-4M151.4 155.1h-4M151.4 136.3h-4M151.4 117.5h-4M151.4 164.5h-1.8M151.4 145.7h-1.8M151.4 126.9h-1.8" stroke="#111" stroke-width="0.9"/>
<path d="M151.8 173.9v3.6M159.0 173.9v2M163.3 173.9v2M166.2 173.9v2M168.6 173.9v2M170.5 173.9v2M172.1 173.9v2M173.5 173.9v2M174.7 173.9v2M175.8 173.9v3.6M183.0 173.9v2M187.3 173.9v2M190.2 173.9v2M192.6 173.9v2M194.5 173.9v2M196.1 173.9v2M197.5 173.9v2M198.7 173.9v2M199.8 173.9v3.6M207.0 173.9v2M211.3 173.9v2M214.2 173.9v2M216.6 173.9v2M218.5 173.9v2M220.1 173.9v2M221.5 173.9v2M222.7 173.9v2M223.8 173.9v3.6M231.0 173.9v2M235.3 173.9v2M238.2 173.9v2M240.6 173.9v2M242.5 173.9v2M244.1 173.9v2M245.5 173.9v2M246.7 173.9v2M247.8 173.9v3.6" stroke="#111" stroke-width="0.8"/>
<text x="146.1" y="177.1" font-size="8.2" text-anchor="end" stroke="#000" stroke-width="0.18">0</text>
<text x="146.1" y="157.7" font-size="8.2" text-anchor="end" stroke="#000" stroke-width="0.18">40</text>
<text x="146.1" y="138.4" font-size="8.2" text-anchor="end" stroke="#000" stroke-width="0.18">80</text>
<text x="146.1" y="119.0" font-size="8.2" text-anchor="end" stroke="#000" stroke-width="0.18">120</text>
<text x="151.6" y="186.8" font-size="8.3" text-anchor="middle" textLength="10.9" lengthAdjust="spacingAndGlyphs" stroke="#000" stroke-width="0.15">10<tspan font-size="5.8" dy="-2.7">0</tspan></text>
<text x="175.6" y="186.8" font-size="8.3" text-anchor="middle" textLength="10.9" lengthAdjust="spacingAndGlyphs" stroke="#000" stroke-width="0.15">10<tspan font-size="5.8" dy="-2.7">1</tspan></text>
<text x="199.6" y="186.8" font-size="8.3" text-anchor="middle" textLength="10.9" lengthAdjust="spacingAndGlyphs" stroke="#000" stroke-width="0.15">10<tspan font-size="5.8" dy="-2.7">2</tspan></text>
<text x="223.6" y="186.8" font-size="8.3" text-anchor="middle" textLength="10.9" lengthAdjust="spacingAndGlyphs" stroke="#000" stroke-width="0.15">10<tspan font-size="5.8" dy="-2.7">3</tspan></text>
<text x="247.6" y="186.8" font-size="8.3" text-anchor="middle" textLength="10.9" lengthAdjust="spacingAndGlyphs" stroke="#000" stroke-width="0.15">10<tspan font-size="5.8" dy="-2.7">4</tspan></text>
<text x="237.1" y="123.0" font-size="13" font-weight="bold" text-anchor="middle">f</text>
</g>
<g>
<path d="M269.9 173.9L269.9 173.9L270.4 173.9L270.9 173.9L271.4 173.9L271.9 173.9L272.4 173.9L272.9 173.9L273.4 173.9L273.9 173.9L274.4 173.9L274.9 173.9L275.4 173.9L275.9 173.9L276.4 173.9L276.9 173.9L277.4 173.9L277.9 173.9L278.4 173.9L278.9 173.9L279.4 173.9L279.9 173.9L280.4 173.9L280.9 173.9L281.4 173.9L281.9 173.9L282.4 173.9L282.9 173.9L283.4 173.9L283.9 173.9L284.4 173.9L284.9 173.9L285.4 173.9L285.9 173.9L286.4 173.9L286.9 173.9L287.4 173.9L287.9 173.9L288.4 173.9L288.9 173.9L289.4 173.9L289.9 173.9L290.4 173.9L290.9 173.9L291.4 173.9L291.9 173.9L292.4 173.9L292.9 173.9L293.4 173.9L293.9 173.9L294.4 173.9L294.9 173.9L295.4 173.9L295.9 173.4L296.4 172.8L296.9 172.1L297.4 171.6L297.9 170.8L298.4 170.6L298.9 170.7L299.4 170.7L299.9 170.2L300.4 170.2L300.9 169.8L301.4 170.7L301.9 171.1L302.4 171.1L302.9 171.3L303.4 170.8L303.9 170.5L304.4 170.1L304.9 169.3L305.4 167.9L305.9 167.5L306.4 166.2L306.9 164.5L307.4 163.3L307.9 161.0L308.4 159.8L308.9 158.5L309.4 156.8L309.9 153.7L310.4 150.9L310.9 148.9L311.4 144.5L311.9 141.3L312.4 139.5L312.9 134.8L313.4 132.0L313.9 131.4L314.4 129.5L314.9 130.8L315.4 133.8L315.9 137.2L316.4 139.7L316.9 140.0L317.4 139.6L317.9 140.5L318.4 142.2L318.9 143.8L319.4 145.1L319.9 145.3L320.4 146.0L320.9 148.3L321.4 150.6L321.9 151.9L322.4 153.4L322.9 155.0L323.4 156.4L323.9 158.4L324.4 158.7L324.9 161.2L325.4 162.9L325.9 164.2L326.4 165.0L326.9 166.2L327.4 168.5L327.9 169.4L328.4 170.1L328.9 170.9L329.4 170.8L329.9 171.0L330.4 171.8L330.9 172.2L331.4 172.4L331.9 172.5L332.4 172.7L332.9 172.7L333.4 172.6L333.9 172.7L334.4 172.8L334.9 172.7L335.4 172.9L335.9 173.1L336.4 173.1L336.9 173.1L337.4 173.0L337.9 173.1L338.4 173.1L338.9 173.1L339.4 173.1L339.9 173.1L340.4 173.4L340.9 173.1L341.4 173.3L341.9 173.4L342.4 173.3L342.9 173.3L343.4 173.5L343.9 173.6L344.4 173.5L344.9 173.5L345.4 173.6L345.9 173.7L346.4 173.5L346.9 173.7L347.4 173.9L347.9 173.9L348.4 173.7L348.9 173.7L349.4 173.8L349.9 173.8L350.4 173.7L350.9 173.7L351.4 173.8L351.9 173.9L352.4 173.9L352.9 173.9L353.4 173.9L353.9 173.9L354.4 173.9L354.9 173.9L355.4 173.9L355.9 173.9L356.4 173.9L356.9 173.9L357.4 173.9L357.9 173.9L358.4 173.9L358.9 173.9L359.4 173.9L359.9 173.9L360.4 173.9L360.9 173.9L361.4 173.9L361.9 173.9L362.4 173.9L362.9 173.9L363.4 173.9L363.9 173.9L364.4 173.9L364.9 173.9L365.4 173.9L365.9 173.9L365.9 173.9Z" stroke="#000" stroke-width="0.5" stroke-linejoin="round"/>
<path d="M269.9 173.9L270.4 169.9L270.9 168.5L271.4 167.1L271.9 165.6L272.4 162.8L272.9 160.4L273.4 158.7L273.9 156.7L274.4 154.3L274.9 152.7L275.4 148.8L275.9 147.2L276.4 143.7L276.9 141.0L277.4 140.4L277.9 138.1L278.4 137.2L278.9 136.3L279.4 135.6L279.9 134.4L280.4 133.7L280.9 135.2L281.4 136.5L281.9 136.8L282.4 138.3L282.9 141.5L283.4 140.9L283.9 143.3L284.4 146.1L284.9 146.8L285.4 146.7L285.9 146.6L286.4 148.8L286.9 151.0L287.4 152.2L287.9 153.8L288.4 155.2L288.9 157.1L289.4 158.2L289.9 159.2L290.4 161.8L290.9 162.8L291.4 163.3L291.9 164.2L292.4 165.7L292.9 167.1L293.4 168.2L293.9 168.7L294.4 169.9L294.9 170.9L295.4 171.2L295.9 172.0L296.4 172.7L296.9 173.0L297.4 173.3L297.9 173.6L298.4 173.9" fill="none" stroke="#000" stroke-width="1.35" stroke-linejoin="round"/>
<path d="M268.7 108.9H366.4" fill="none" stroke="#4a4a4a" stroke-width="1.25"/>
<path d="M365.9 108.9V173.9" fill="none" stroke="#505050" stroke-width="1.15"/>
<path d="M269.8 108.9V174.4" stroke="#444" stroke-width="0.85"/>
<path d="M269.4 173.9H366.4" stroke="#000" stroke-width="1.3"/>
<path d="M269.9 173.9h-4M269.9 155.1h-4M269.9 136.3h-4M269.9 117.5h-4M269.9 164.5h-1.8M269.9 145.7h-1.8M269.9 126.9h-1.8" stroke="#111" stroke-width="0.9"/>
<path d="M270.3 173.9v3.6M277.5 173.9v2M281.8 173.9v2M284.7 173.9v2M287.1 173.9v2M289.0 173.9v2M290.6 173.9v2M292.0 173.9v2M293.2 173.9v2M294.3 173.9v3.6M301.5 173.9v2M305.8 173.9v2M308.7 173.9v2M311.1 173.9v2M313.0 173.9v2M314.6 173.9v2M316.0 173.9v2M317.2 173.9v2M318.3 173.9v3.6M325.5 173.9v2M329.8 173.9v2M332.7 173.9v2M335.1 173.9v2M337.0 173.9v2M338.6 173.9v2M340.0 173.9v2M341.2 173.9v2M342.3 173.9v3.6M349.5 173.9v2M353.8 173.9v2M356.7 173.9v2M359.1 173.9v2M361.0 173.9v2M362.6 173.9v2M364.0 173.9v2M365.2 173.9v2M366.3 173.9v3.6" stroke="#111" stroke-width="0.8"/>
<text x="264.6" y="177.1" font-size="8.2" text-anchor="end" stroke="#000" stroke-width="0.18">0</text>
<text x="264.6" y="157.7" font-size="8.2" text-anchor="end" stroke="#000" stroke-width="0.18">40</text>
<text x="264.6" y="138.4" font-size="8.2" text-anchor="end" stroke="#000" stroke-width="0.18">80</text>
<text x="264.6" y="119.0" font-size="8.2" text-anchor="end" stroke="#000" stroke-width="0.18">120</text>
<text x="270.1" y="186.8" font-size="8.3" text-anchor="middle" textLength="10.9" lengthAdjust="spacingAndGlyphs" stroke="#000" stroke-width="0.15">10<tspan font-size="5.8" dy="-2.7">0</tspan></text>
<text x="294.1" y="186.8" font-size="8.3" text-anchor="middle" textLength="10.9" lengthAdjust="spacingAndGlyphs" stroke="#000" stroke-width="0.15">10<tspan font-size="5.8" dy="-2.7">1</tspan></text>
<text x="318.1" y="186.8" font-size="8.3" text-anchor="middle" textLength="10.9" lengthAdjust="spacingAndGlyphs" stroke="#000" stroke-width="0.15">10<tspan font-size="5.8" dy="-2.7">2</tspan></text>
<text x="342.1" y="186.8" font-size="8.3" text-anchor="middle" textLength="10.9" lengthAdjust="spacingAndGlyphs" stroke="#000" stroke-width="0.15">10<tspan font-size="5.8" dy="-2.7">3</tspan></text>
<text x="366.1" y="186.8" font-size="8.3" text-anchor="middle" textLength="10.9" lengthAdjust="spacingAndGlyphs" stroke="#000" stroke-width="0.15">10<tspan font-size="5.8" dy="-2.7">4</tspan></text>
<text x="355.6" y="123.0" font-size="13" font-weight="bold" text-anchor="middle">g</text>
</g>
<g>
<path d="M388.3 173.9L388.3 173.9L388.8 173.9L389.3 173.9L389.8 173.9L390.3 173.9L390.8 173.9L391.3 173.9L391.8 173.9L392.3 173.9L392.8 173.9L393.3 173.9L393.8 173.9L394.3 173.9L394.8 173.9L395.3 173.9L395.8 173.9L396.3 173.9L396.8 173.9L397.3 173.9L397.8 173.9L398.3 173.9L398.8 173.9L399.3 173.9L399.8 173.9L400.3 173.9L400.8 173.9L401.3 173.9L401.8 173.9L402.3 173.9L402.8 173.9L403.3 173.9L403.8 173.9L404.3 173.9L404.8 173.9L405.3 173.9L405.8 173.9L406.3 173.9L406.8 173.9L407.3 173.9L407.8 173.9L408.3 173.9L408.8 173.9L409.3 173.9L409.8 173.9L410.3 173.9L410.8 173.9L411.3 173.9L411.8 173.9L412.3 173.9L412.8 173.9L413.3 173.9L413.8 173.9L414.3 173.9L414.8 173.9L415.3 173.9L415.8 173.9L416.3 173.9L416.8 173.9L417.3 173.9L417.8 173.9L418.3 173.9L418.8 173.9L419.3 173.9L419.8 173.9L420.3 173.7L420.8 173.6L421.3 173.6L421.8 173.6L422.3 173.4L422.8 173.6L423.3 173.5L423.8 173.5L424.3 173.5L424.8 173.3L425.3 172.9L425.8 172.8L426.3 172.5L426.8 172.8L427.3 172.3L427.8 172.2L428.3 172.8L428.8 172.5L429.3 171.6L429.8 171.8L430.3 171.3L430.8 171.6L431.3 172.2L431.8 171.2L432.3 170.5L432.8 169.8L433.3 170.3L433.8 170.0L434.3 170.6L434.8 169.5L435.3 169.2L435.8 169.6L436.3 169.4L436.8 170.1L437.3 170.4L437.8 169.8L438.3 169.2L438.8 168.5L439.3 170.0L439.8 171.1L440.3 170.2L440.8 169.9L441.3 170.1L441.8 169.0L442.3 169.7L442.8 171.3L443.3 169.3L443.8 169.0L444.3 170.1L444.8 170.8L445.3 170.4L445.8 169.3L446.3 169.6L446.8 169.1L447.3 169.5L447.8 169.3L448.3 170.0L448.8 168.8L449.3 169.5L449.8 171.4L450.3 170.1L450.8 169.3L451.3 168.5L451.8 168.9L452.3 167.5L452.8 167.3L453.3 168.0L453.8 167.1L454.3 165.6L454.8 167.1L455.3 167.5L455.8 167.8L456.3 169.0L456.8 169.0L457.3 167.1L457.8 166.9L458.3 166.4L458.8 166.3L459.3 166.2L459.8 167.3L460.3 167.6L460.8 165.0L461.3 165.1L461.8 165.5L462.3 164.2L462.8 164.5L463.3 162.7L463.8 162.8L464.3 161.3L464.8 159.4L465.3 161.6L465.8 159.9L466.3 161.1L466.8 160.9L467.3 157.6L467.8 156.2L468.3 157.0L468.8 155.1L469.3 150.8L469.8 150.6L470.3 145.7L470.8 147.3L471.3 148.4L471.8 152.2L472.3 151.2L472.8 152.8L473.3 153.0L473.8 149.6L474.3 152.1L474.8 152.7L475.3 154.8L475.8 156.8L476.3 155.8L476.8 157.9L477.3 159.2L477.8 160.5L478.3 161.2L478.8 162.5L479.3 162.7L479.8 165.1L480.3 166.9L480.8 167.8L481.3 168.5L481.8 169.4L482.3 171.8L482.8 171.9L483.3 171.3L483.8 173.9L484.3 173.9L484.3 173.9Z" stroke="#000" stroke-width="0.5" stroke-linejoin="round"/>
<path d="M388.3 173.9L388.8 167.2L389.3 166.6L389.8 166.5L390.3 164.3L390.8 161.7L391.3 160.2L391.8 158.2L392.3 155.5L392.8 152.6L393.3 152.2L393.8 150.5L394.3 148.2L394.8 146.8L395.3 143.8L395.8 141.2L396.3 138.9L396.8 138.1L397.3 137.4L397.8 135.9L398.3 135.3L398.8 134.9L399.3 135.2L399.8 135.2L400.3 135.7L400.8 137.4L401.3 139.2L401.8 140.5L402.3 143.5L402.8 145.4L403.3 147.3L403.8 149.2L404.3 151.0L404.8 152.2L405.3 153.8L405.8 156.0L406.3 158.0L406.8 158.4L407.3 159.5L407.8 161.6L408.3 162.5L408.8 163.1L409.3 163.6L409.8 164.6L410.3 165.6L410.8 165.7L411.3 167.0L411.8 168.0L412.3 168.1L412.8 168.5L413.3 168.9L413.8 169.3L414.3 169.5L414.8 170.3L415.3 170.1L415.8 170.5L416.3 171.4L416.8 171.9L417.3 172.2L417.8 172.7L418.3 172.8L418.8 173.0L419.3 173.3L419.8 173.5L420.3 173.7L420.8 173.9" fill="none" stroke="#000" stroke-width="1.35" stroke-linejoin="round"/>
<path d="M387.1 108.9H484.8" fill="none" stroke="#4a4a4a" stroke-width="1.25"/>
<path d="M484.3 108.9V173.9" fill="none" stroke="#505050" stroke-width="1.15"/>
<path d="M388.2 108.9V174.4" stroke="#444" stroke-width="0.85"/>
<path d="M387.8 173.9H484.8" stroke="#000" stroke-width="1.3"/>
<path d="M388.3 173.9h-4M388.3 155.1h-4M388.3 136.3h-4M388.3 117.5h-4M388.3 164.5h-1.8M388.3 145.7h-1.8M388.3 126.9h-1.8" stroke="#111" stroke-width="0.9"/>
<path d="M388.7 173.9v3.6M395.9 173.9v2M400.2 173.9v2M403.1 173.9v2M405.5 173.9v2M407.4 173.9v2M409.0 173.9v2M410.4 173.9v2M411.6 173.9v2M412.7 173.9v3.6M419.9 173.9v2M424.2 173.9v2M427.1 173.9v2M429.5 173.9v2M431.4 173.9v2M433.0 173.9v2M434.4 173.9v2M435.6 173.9v2M436.7 173.9v3.6M443.9 173.9v2M448.2 173.9v2M451.1 173.9v2M453.5 173.9v2M455.4 173.9v2M457.0 173.9v2M458.4 173.9v2M459.6 173.9v2M460.7 173.9v3.6M467.9 173.9v2M472.2 173.9v2M475.1 173.9v2M477.5 173.9v2M479.4 173.9v2M481.0 173.9v2M482.4 173.9v2M483.6 173.9v2M484.7 173.9v3.6" stroke="#111" stroke-width="0.8"/>
<text x="383.0" y="177.1" font-size="8.2" text-anchor="end" stroke="#000" stroke-width="0.18">0</text>
<text x="383.0" y="157.7" font-size="8.2" text-anchor="end" stroke="#000" stroke-width="0.18">40</text>
<text x="383.0" y="138.4" font-size="8.2" text-anchor="end" stroke="#000" stroke-width="0.18">80</text>
<text x="383.0" y="119.0" font-size="8.2" text-anchor="end" stroke="#000" stroke-width="0.18">120</text>
<text x="388.5" y="186.8" font-size="8.3" text-anchor="middle" textLength="10.9" lengthAdjust="spacingAndGlyphs" stroke="#000" stroke-width="0.15">10<tspan font-size="5.8" dy="-2.7">0</tspan></text>
<text x="412.5" y="186.8" font-size="8.3" text-anchor="middle" textLength="10.9" lengthAdjust="spacingAndGlyphs" stroke="#000" stroke-width="0.15">10<tspan font-size="5.8" dy="-2.7">1</tspan></text>
<text x="436.5" y="186.8" font-size="8.3" text-anchor="middle" textLength="10.9" lengthAdjust="spacingAndGlyphs" stroke="#000" stroke-width="0.15">10<tspan font-size="5.8" dy="-2.7">2</tspan></text>
<text x="460.5" y="186.8" font-size="8.3" text-anchor="middle" textLength="10.9" lengthAdjust="spacingAndGlyphs" stroke="#000" stroke-width="0.15">10<tspan font-size="5.8" dy="-2.7">3</tspan></text>
<text x="484.5" y="186.8" font-size="8.3" text-anchor="middle" textLength="10.9" lengthAdjust="spacingAndGlyphs" stroke="#000" stroke-width="0.15">10<tspan font-size="5.8" dy="-2.7">4</tspan></text>
<text x="474.0" y="123.0" font-size="13" font-weight="bold" text-anchor="middle">h</text>
</g>
<g>
<path d="M32.9 266.2L32.9 266.2L33.4 266.2L33.9 264.6L34.4 265.0L34.9 265.5L35.4 265.5L35.9 265.3L36.4 265.5L36.9 264.8L37.4 264.8L37.9 264.9L38.4 264.8L38.9 264.7L39.4 264.9L39.9 265.2L40.4 264.8L40.9 264.9L41.4 265.2L41.9 264.7L42.4 264.9L42.9 265.3L43.4 264.5L43.9 264.3L44.4 264.7L44.9 264.8L45.4 265.0L45.9 264.3L46.4 264.0L46.9 263.8L47.4 263.4L47.9 263.8L48.4 263.4L48.9 263.0L49.4 262.9L49.9 263.4L50.4 262.6L50.9 261.9L51.4 261.8L51.9 261.0L52.4 260.5L52.9 259.7L53.4 258.7L53.9 257.3L54.4 255.2L54.9 251.9L55.4 252.3L55.9 253.4L56.4 250.2L56.9 246.0L57.4 244.7L57.9 245.7L58.4 243.5L58.9 241.0L59.4 241.2L59.9 237.5L60.4 234.0L60.9 234.0L61.4 231.5L61.9 231.1L62.4 229.0L62.9 228.2L63.4 227.0L63.9 228.5L64.4 228.6L64.9 226.2L65.4 230.2L65.9 229.2L66.4 230.4L66.9 232.3L67.4 234.0L67.9 236.0L68.4 237.8L68.9 237.1L69.4 236.8L69.9 236.8L70.4 237.8L70.9 241.5L71.4 244.8L71.9 249.0L72.4 249.3L72.9 249.8L73.4 252.7L73.9 253.8L74.4 255.8L74.9 257.3L75.4 258.6L75.9 259.9L76.4 260.5L76.9 261.6L77.4 262.9L77.9 262.9L78.4 262.3L78.9 262.6L79.4 263.1L79.9 263.9L80.4 264.3L80.9 264.1L81.4 264.3L81.9 264.3L82.4 264.2L82.9 264.0L83.4 264.1L83.9 264.2L84.4 264.9L84.9 265.5L85.4 265.4L85.9 265.6L86.4 265.3L86.9 265.1L87.4 264.8L87.9 265.3L88.4 265.7L88.9 265.8L89.4 265.8L89.9 265.5L90.4 265.5L90.9 265.6L91.4 265.8L91.9 265.9L92.4 265.8L92.9 265.8L93.4 265.7L93.9 265.6L94.4 265.8L94.9 265.8L95.4 265.8L95.9 265.8L96.4 265.7L96.9 265.8L97.4 265.9L97.9 266.1L98.4 265.9L98.9 265.8L99.4 265.9L99.9 266.0L100.4 266.0L100.9 266.0L101.4 266.2L101.9 266.2L102.4 266.0L102.9 265.9L103.4 265.9L103.9 266.0L104.4 266.0L104.9 266.1L105.4 266.2L105.9 266.2L106.4 266.2L106.9 266.2L107.4 266.2L107.9 266.2L108.4 266.2L108.9 266.2L109.4 266.2L109.9 266.2L110.4 266.2L110.9 266.2L111.4 266.2L111.9 266.2L112.4 266.2L112.9 266.2L113.4 266.2L113.9 266.2L114.4 266.2L114.9 266.2L115.4 266.2L115.9 266.2L116.4 266.2L116.9 266.2L117.4 266.2L117.9 266.2L118.4 266.2L118.9 266.2L119.4 266.2L119.9 266.2L120.4 266.2L120.9 266.2L121.4 266.2L121.9 266.2L122.4 266.2L122.9 266.2L123.4 266.2L123.9 266.2L124.4 266.2L124.9 266.2L125.4 266.2L125.9 266.2L126.4 266.2L126.9 266.2L127.4 266.2L127.9 266.2L128.4 266.2L128.9 266.2L128.9 266.2Z" stroke="#000" stroke-width="0.5" stroke-linejoin="round"/>
<path d="M32.9 266.2L33.4 261.2L33.9 264.7L34.4 264.8L34.9 264.8L35.4 264.9L35.9 264.8L36.4 264.8L36.9 264.8L37.4 264.7L37.9 264.8L38.4 264.8L38.9 264.7L39.4 264.8L39.9 264.7L40.4 264.6L40.9 264.8L41.4 264.9L41.9 264.7L42.4 264.6L42.9 264.5L43.4 264.2L43.9 263.9L44.4 263.7L44.9 262.2L45.4 260.0L45.9 258.2L46.4 255.8L46.9 253.4L47.4 250.5L47.9 247.1L48.4 244.6L48.9 241.8L49.4 239.5L49.9 237.1L50.4 234.6L50.9 232.6L51.4 229.6L51.9 226.6L52.4 223.9L52.9 222.8L53.4 221.9L53.9 221.8L54.4 219.0L54.9 218.5L55.4 220.7L55.9 222.2L56.4 222.5L56.9 223.4L57.4 228.2L57.9 233.2L58.4 236.5L58.9 238.0L59.4 240.0L59.9 244.1L60.4 248.3L60.9 251.7L61.4 254.7L61.9 257.7L62.4 260.0L62.9 261.5L63.4 262.6L63.9 263.6L64.4 264.5L64.9 265.3L65.4 265.9L65.9 266.2L66.4 266.2" fill="none" stroke="#000" stroke-width="1.35" stroke-linejoin="round"/>
<path d="M31.7 200.8H129.4" fill="none" stroke="#4a4a4a" stroke-width="1.25"/>
<path d="M128.9 200.8V266.2" fill="none" stroke="#505050" stroke-width="1.15"/>
<path d="M32.8 200.8V266.7" stroke="#444" stroke-width="0.85"/>
<path d="M32.4 266.2H129.4" stroke="#000" stroke-width="1.3"/>
<path d="M32.9 266.2h-4M32.9 247.4h-4M32.9 228.6h-4M32.9 209.8h-4M32.9 256.8h-1.8M32.9 238.0h-1.8M32.9 219.2h-1.8" stroke="#111" stroke-width="0.9"/>
<path d="M33.3 266.2v3.6M40.5 266.2v2M44.8 266.2v2M47.7 266.2v2M50.1 266.2v2M52.0 266.2v2M53.6 266.2v2M55.0 266.2v2M56.2 266.2v2M57.3 266.2v3.6M64.5 266.2v2M68.8 266.2v2M71.7 266.2v2M74.1 266.2v2M76.0 266.2v2M77.6 266.2v2M79.0 266.2v2M80.2 266.2v2M81.3 266.2v3.6M88.5 266.2v2M92.8 266.2v2M95.7 266.2v2M98.1 266.2v2M100.0 266.2v2M101.6 266.2v2M103.0 266.2v2M104.2 266.2v2M105.3 266.2v3.6M112.5 266.2v2M116.8 266.2v2M119.7 266.2v2M122.1 266.2v2M124.0 266.2v2M125.6 266.2v2M127.0 266.2v2M128.2 266.2v2M129.3 266.2v3.6" stroke="#111" stroke-width="0.8"/>
<text x="27.6" y="269.4" font-size="8.2" text-anchor="end" stroke="#000" stroke-width="0.18">0</text>
<text x="27.6" y="250.0" font-size="8.2" text-anchor="end" stroke="#000" stroke-width="0.18">40</text>
<text x="27.6" y="230.7" font-size="8.2" text-anchor="end" stroke="#000" stroke-width="0.18">80</text>
<text x="27.6" y="211.3" font-size="8.2" text-anchor="end" stroke="#000" stroke-width="0.18">120</text>
<text x="33.1" y="279.1" font-size="8.3" text-anchor="middle" textLength="10.9" lengthAdjust="spacingAndGlyphs" stroke="#000" stroke-width="0.15">10<tspan font-size="5.8" dy="-2.7">0</tspan></text>
<text x="57.1" y="279.1" font-size="8.3" text-anchor="middle" textLength="10.9" lengthAdjust="spacingAndGlyphs" stroke="#000" stroke-width="0.15">10<tspan font-size="5.8" dy="-2.7">1</tspan></text>
<text x="81.1" y="279.1" font-size="8.3" text-anchor="middle" textLength="10.9" lengthAdjust="spacingAndGlyphs" stroke="#000" stroke-width="0.15">10<tspan font-size="5.8" dy="-2.7">2</tspan></text>
<text x="105.1" y="279.1" font-size="8.3" text-anchor="middle" textLength="10.9" lengthAdjust="spacingAndGlyphs" stroke="#000" stroke-width="0.15">10<tspan font-size="5.8" dy="-2.7">3</tspan></text>
<text x="129.1" y="279.1" font-size="8.3" text-anchor="middle" textLength="10.9" lengthAdjust="spacingAndGlyphs" stroke="#000" stroke-width="0.15">10<tspan font-size="5.8" dy="-2.7">4</tspan></text>
<text x="118.6" y="214.9" font-size="13" font-weight="bold" text-anchor="middle">i</text>
</g>
<g>
<path d="M151.4 266.2L151.4 266.2L151.9 266.2L152.4 266.2L152.9 266.2L153.4 266.2L153.9 266.2L154.4 266.2L154.9 266.2L155.4 266.2L155.9 266.2L156.4 266.2L156.9 266.2L157.4 266.2L157.9 266.2L158.4 266.2L158.9 266.2L159.4 265.8L159.9 265.8L160.4 265.7L160.9 266.0L161.4 265.9L161.9 265.8L162.4 265.8L162.9 265.9L163.4 266.0L163.9 265.7L164.4 265.6L164.9 265.5L165.4 265.8L165.9 266.0L166.4 265.9L166.9 265.7L167.4 265.6L167.9 265.7L168.4 265.7L168.9 265.7L169.4 265.8L169.9 265.7L170.4 265.8L170.9 265.6L171.4 265.7L171.9 266.0L172.4 265.8L172.9 265.6L173.4 265.5L173.9 265.5L174.4 265.6L174.9 265.6L175.4 265.7L175.9 265.7L176.4 265.8L176.9 265.8L177.4 265.7L177.9 265.7L178.4 265.5L178.9 265.1L179.4 265.4L179.9 265.6L180.4 265.8L180.9 265.6L181.4 265.5L181.9 265.5L182.4 265.6L182.9 265.6L183.4 265.5L183.9 265.1L184.4 265.3L184.9 265.3L185.4 265.1L185.9 265.2L186.4 265.3L186.9 264.9L187.4 264.8L187.9 264.5L188.4 263.9L188.9 264.3L189.4 264.0L189.9 263.4L190.4 263.4L190.9 262.9L191.4 261.5L191.9 259.8L192.4 259.0L192.9 257.7L193.4 256.6L193.9 255.1L194.4 254.7L194.9 254.3L195.4 251.7L195.9 250.6L196.4 249.7L196.9 247.0L197.4 243.4L197.9 241.6L198.4 239.7L198.9 238.3L199.4 234.5L199.9 233.5L200.4 232.8L200.9 231.1L201.4 227.8L201.9 225.9L202.4 225.6L202.9 226.6L203.4 225.6L203.9 223.0L204.4 223.9L204.9 217.8L205.4 226.0L205.9 225.2L206.4 225.8L206.9 226.1L207.4 228.9L207.9 230.0L208.4 231.9L208.9 233.8L209.4 238.4L209.9 241.6L210.4 242.6L210.9 245.4L211.4 249.5L211.9 251.4L212.4 252.6L212.9 254.3L213.4 255.3L213.9 255.4L214.4 257.0L214.9 258.8L215.4 259.7L215.9 261.4L216.4 262.2L216.9 262.3L217.4 262.6L217.9 263.3L218.4 263.7L218.9 264.1L219.4 264.5L219.9 264.3L220.4 264.4L220.9 264.9L221.4 265.0L221.9 265.0L222.4 265.1L222.9 265.3L223.4 265.6L223.9 265.7L224.4 265.5L224.9 265.2L225.4 265.5L225.9 265.5L226.4 265.6L226.9 265.8L227.4 265.7L227.9 265.7L228.4 265.6L228.9 265.8L229.4 265.8L229.9 265.8L230.4 266.1L230.9 266.0L231.4 266.0L231.9 266.1L232.4 266.2L232.9 266.0L233.4 265.9L233.9 266.2L234.4 266.2L234.9 266.2L235.4 266.2L235.9 266.2L236.4 266.2L236.9 266.2L237.4 266.2L237.9 266.2L238.4 266.2L238.9 266.2L239.4 266.2L239.9 266.2L240.4 266.2L240.9 266.2L241.4 266.2L241.9 266.2L242.4 266.2L242.9 266.2L243.4 266.2L243.9 266.2L244.4 266.2L244.9 266.2L245.4 266.2L245.9 266.2L246.4 266.2L246.9 266.2L247.4 266.2L247.4 266.2Z" stroke="#000" stroke-width="0.5" stroke-linejoin="round"/>
<path d="M151.4 266.2L151.9 261.2L152.4 264.8L152.9 265.2L153.4 265.4L153.9 265.5L154.4 265.6L154.9 265.6L155.4 265.6L155.9 265.4L156.4 265.3L156.9 265.3L157.4 265.3L157.9 265.3L158.4 265.3L158.9 265.2L159.4 264.8L159.9 264.3L160.4 263.7L160.9 262.7L161.4 261.9L161.9 260.2L162.4 259.5L162.9 258.6L163.4 256.4L163.9 256.5L164.4 256.0L164.9 253.9L165.4 251.5L165.9 250.1L166.4 247.7L166.9 244.7L167.4 242.1L167.9 241.1L168.4 237.4L168.9 232.7L169.4 230.1L169.9 228.5L170.4 226.4L170.9 226.3L171.4 223.2L171.9 219.4L172.4 218.5L172.9 221.6L173.4 221.4L173.9 220.5L174.4 222.0L174.9 222.6L175.4 226.4L175.9 231.4L176.4 234.4L176.9 236.7L177.4 239.8L177.9 242.2L178.4 244.8L178.9 248.4L179.4 249.9L179.9 252.3L180.4 255.3L180.9 256.5L181.4 257.1L181.9 258.7L182.4 260.3L182.9 261.4L183.4 262.9L183.9 263.0L184.4 263.1L184.9 264.1L185.4 264.3L185.9 264.4L186.4 264.3L186.9 264.4L187.4 264.6L187.9 264.8L188.4 265.1L188.9 265.4L189.4 265.3L189.9 265.2L190.4 265.3L190.9 265.4L191.4 265.6L191.9 265.6L192.4 265.8L192.9 266.0L193.4 266.2" fill="none" stroke="#000" stroke-width="1.35" stroke-linejoin="round"/>
<path d="M150.2 200.8H247.9" fill="none" stroke="#4a4a4a" stroke-width="1.25"/>
<path d="M247.4 200.8V266.2" fill="none" stroke="#505050" stroke-width="1.15"/>
<path d="M151.3 200.8V266.7" stroke="#444" stroke-width="0.85"/>
<path d="M150.9 266.2H247.9" stroke="#000" stroke-width="1.3"/>
<path d="M151.4 266.2h-4M151.4 247.4h-4M151.4 228.6h-4M151.4 209.8h-4M151.4 256.8h-1.8M151.4 238.0h-1.8M151.4 219.2h-1.8" stroke="#111" stroke-width="0.9"/>
<path d="M151.8 266.2v3.6M159.0 266.2v2M163.3 266.2v2M166.2 266.2v2M168.6 266.2v2M170.5 266.2v2M172.1 266.2v2M173.5 266.2v2M174.7 266.2v2M175.8 266.2v3.6M183.0 266.2v2M187.3 266.2v2M190.2 266.2v2M192.6 266.2v2M194.5 266.2v2M196.1 266.2v2M197.5 266.2v2M198.7 266.2v2M199.8 266.2v3.6M207.0 266.2v2M211.3 266.2v2M214.2 266.2v2M216.6 266.2v2M218.5 266.2v2M220.1 266.2v2M221.5 266.2v2M222.7 266.2v2M223.8 266.2v3.6M231.0 266.2v2M235.3 266.2v2M238.2 266.2v2M240.6 266.2v2M242.5 266.2v2M244.1 266.2v2M245.5 266.2v2M246.7 266.2v2M247.8 266.2v3.6" stroke="#111" stroke-width="0.8"/>
<text x="146.1" y="269.4" font-size="8.2" text-anchor="end" stroke="#000" stroke-width="0.18">0</text>
<text x="146.1" y="250.0" font-size="8.2" text-anchor="end" stroke="#000" stroke-width="0.18">40</text>
<text x="146.1" y="230.7" font-size="8.2" text-anchor="end" stroke="#000" stroke-width="0.18">80</text>
<text x="146.1" y="211.3" font-size="8.2" text-anchor="end" stroke="#000" stroke-width="0.18">120</text>
<text x="151.6" y="279.1" font-size="8.3" text-anchor="middle" textLength="10.9" lengthAdjust="spacingAndGlyphs" stroke="#000" stroke-width="0.15">10<tspan font-size="5.8" dy="-2.7">0</tspan></text>
<text x="175.6" y="279.1" font-size="8.3" text-anchor="middle" textLength="10.9" lengthAdjust="spacingAndGlyphs" stroke="#000" stroke-width="0.15">10<tspan font-size="5.8" dy="-2.7">1</tspan></text>
<text x="199.6" y="279.1" font-size="8.3" text-anchor="middle" textLength="10.9" lengthAdjust="spacingAndGlyphs" stroke="#000" stroke-width="0.15">10<tspan font-size="5.8" dy="-2.7">2</tspan></text>
<text x="223.6" y="279.1" font-size="8.3" text-anchor="middle" textLength="10.9" lengthAdjust="spacingAndGlyphs" stroke="#000" stroke-width="0.15">10<tspan font-size="5.8" dy="-2.7">3</tspan></text>
<text x="247.6" y="279.1" font-size="8.3" text-anchor="middle" textLength="10.9" lengthAdjust="spacingAndGlyphs" stroke="#000" stroke-width="0.15">10<tspan font-size="5.8" dy="-2.7">4</tspan></text>
<text x="237.1" y="214.9" font-size="13" font-weight="bold" text-anchor="middle">j</text>
</g>
<g>
<path d="M269.9 266.2L269.9 266.2L270.4 266.2L270.9 266.2L271.4 266.2L271.9 266.2L272.4 266.2L272.9 266.2L273.4 266.2L273.9 266.2L274.4 266.2L274.9 265.4L275.4 265.7L275.9 265.3L276.4 265.1L276.9 265.0L277.4 265.0L277.9 265.3L278.4 265.4L278.9 265.4L279.4 265.1L279.9 265.0L280.4 265.4L280.9 265.2L281.4 265.2L281.9 265.2L282.4 265.1L282.9 264.9L283.4 265.5L283.9 265.1L284.4 265.1L284.9 264.6L285.4 264.8L285.9 265.0L286.4 264.9L286.9 264.6L287.4 264.1L287.9 264.1L288.4 264.3L288.9 264.2L289.4 264.2L289.9 264.1L290.4 264.3L290.9 264.2L291.4 263.5L291.9 263.2L292.4 264.2L292.9 264.2L293.4 263.6L293.9 263.7L294.4 263.8L294.9 263.5L295.4 262.9L295.9 262.4L296.4 262.7L296.9 262.5L297.4 262.5L297.9 262.4L298.4 262.3L298.9 262.9L299.4 262.6L299.9 261.6L300.4 260.4L300.9 260.0L301.4 258.5L301.9 257.8L302.4 257.9L302.9 257.8L303.4 255.3L303.9 255.0L304.4 255.9L304.9 254.3L305.4 253.4L305.9 251.8L306.4 252.0L306.9 249.7L307.4 246.8L307.9 246.7L308.4 246.5L308.9 243.9L309.4 240.3L309.9 240.4L310.4 240.1L310.9 236.8L311.4 234.9L311.9 234.7L312.4 233.3L312.9 231.5L313.4 230.9L313.9 229.9L314.4 233.0L314.9 231.9L315.4 229.6L315.9 230.5L316.4 232.8L316.9 231.2L317.4 230.2L317.9 233.6L318.4 234.6L318.9 235.1L319.4 236.9L319.9 236.2L320.4 236.4L320.9 240.1L321.4 242.4L321.9 243.2L322.4 245.5L322.9 246.3L323.4 247.7L323.9 249.7L324.4 252.8L324.9 252.9L325.4 255.8L325.9 257.2L326.4 256.9L326.9 258.6L327.4 260.6L327.9 261.5L328.4 262.5L328.9 262.2L329.4 262.4L329.9 263.6L330.4 263.1L330.9 263.7L331.4 264.1L331.9 264.8L332.4 264.8L332.9 264.4L333.4 264.5L333.9 265.0L334.4 264.7L334.9 265.0L335.4 264.8L335.9 264.8L336.4 265.1L336.9 265.0L337.4 265.0L337.9 264.6L338.4 264.9L338.9 265.6L339.4 265.4L339.9 265.5L340.4 265.6L340.9 265.5L341.4 265.4L341.9 265.1L342.4 265.3L342.9 265.5L343.4 265.7L343.9 265.8L344.4 265.7L344.9 265.6L345.4 265.5L345.9 265.4L346.4 265.9L346.9 265.7L347.4 265.5L347.9 266.0L348.4 265.8L348.9 265.6L349.4 266.0L349.9 265.9L350.4 266.0L350.9 266.0L351.4 265.8L351.9 265.7L352.4 265.7L352.9 265.8L353.4 266.2L353.9 266.2L354.4 266.0L354.9 265.9L355.4 265.9L355.9 266.1L356.4 266.1L356.9 266.2L357.4 266.2L357.9 266.2L358.4 266.2L358.9 266.2L359.4 266.2L359.9 266.2L360.4 266.2L360.9 266.2L361.4 266.2L361.9 266.2L362.4 266.2L362.9 266.2L363.4 266.2L363.9 266.2L364.4 266.2L364.9 266.2L365.4 266.2L365.9 266.2L365.9 266.2Z" stroke="#000" stroke-width="0.5" stroke-linejoin="round"/>
<path d="M269.9 266.2L270.4 261.0L270.9 265.2L271.4 265.3L271.9 265.3L272.4 265.5L272.9 265.6L273.4 265.6L273.9 265.6L274.4 265.4L274.9 265.4L275.4 265.4L275.9 265.5L276.4 265.5L276.9 264.9L277.4 264.5L277.9 263.9L278.4 263.3L278.9 263.1L279.4 262.0L279.9 261.0L280.4 260.2L280.9 259.4L281.4 258.1L281.9 256.7L282.4 255.1L282.9 253.8L283.4 252.1L283.9 251.1L284.4 249.5L284.9 247.0L285.4 245.3L285.9 243.5L286.4 240.2L286.9 237.9L287.4 236.6L287.9 234.6L288.4 232.9L288.9 229.9L289.4 226.8L289.9 224.1L290.4 221.7L290.9 221.0L291.4 219.6L291.9 219.8L292.4 219.9L292.9 221.6L293.4 223.7L293.9 226.0L294.4 230.2L294.9 235.3L295.4 238.2L295.9 240.7L296.4 244.7L296.9 246.7L297.4 249.8L297.9 252.3L298.4 253.7L298.9 255.2L299.4 257.1L299.9 258.6L300.4 259.7L300.9 261.3L301.4 262.9L301.9 263.8L302.4 264.4L302.9 265.1L303.4 265.7L303.9 266.2" fill="none" stroke="#000" stroke-width="1.35" stroke-linejoin="round"/>
<path d="M268.7 200.8H366.4" fill="none" stroke="#4a4a4a" stroke-width="1.25"/>
<path d="M365.9 200.8V266.2" fill="none" stroke="#505050" stroke-width="1.15"/>
<path d="M269.8 200.8V266.7" stroke="#444" stroke-width="0.85"/>
<path d="M269.4 266.2H366.4" stroke="#000" stroke-width="1.3"/>
<path d="M269.9 266.2h-4M269.9 247.4h-4M269.9 228.6h-4M269.9 209.8h-4M269.9 256.8h-1.8M269.9 238.0h-1.8M269.9 219.2h-1.8" stroke="#111" stroke-width="0.9"/>
<path d="M270.3 266.2v3.6M277.5 266.2v2M281.8 266.2v2M284.7 266.2v2M287.1 266.2v2M289.0 266.2v2M290.6 266.2v2M292.0 266.2v2M293.2 266.2v2M294.3 266.2v3.6M301.5 266.2v2M305.8 266.2v2M308.7 266.2v2M311.1 266.2v2M313.0 266.2v2M314.6 266.2v2M316.0 266.2v2M317.2 266.2v2M318.3 266.2v3.6M325.5 266.2v2M329.8 266.2v2M332.7 266.2v2M335.1 266.2v2M337.0 266.2v2M338.6 266.2v2M340.0 266.2v2M341.2 266.2v2M342.3 266.2v3.6M349.5 266.2v2M353.8 266.2v2M356.7 266.2v2M359.1 266.2v2M361.0 266.2v2M362.6 266.2v2M364.0 266.2v2M365.2 266.2v2M366.3 266.2v3.6" stroke="#111" stroke-width="0.8"/>
<text x="264.6" y="269.4" font-size="8.2" text-anchor="end" stroke="#000" stroke-width="0.18">0</text>
<text x="264.6" y="250.0" font-size="8.2" text-anchor="end" stroke="#000" stroke-width="0.18">40</text>
<text x="264.6" y="230.7" font-size="8.2" text-anchor="end" stroke="#000" stroke-width="0.18">80</text>
<text x="264.6" y="211.3" font-size="8.2" text-anchor="end" stroke="#000" stroke-width="0.18">120</text>
<text x="270.1" y="279.1" font-size="8.3" text-anchor="middle" textLength="10.9" lengthAdjust="spacingAndGlyphs" stroke="#000" stroke-width="0.15">10<tspan font-size="5.8" dy="-2.7">0</tspan></text>
<text x="294.1" y="279.1" font-size="8.3" text-anchor="middle" textLength="10.9" lengthAdjust="spacingAndGlyphs" stroke="#000" stroke-width="0.15">10<tspan font-size="5.8" dy="-2.7">1</tspan></text>
<text x="318.1" y="279.1" font-size="8.3" text-anchor="middle" textLength="10.9" lengthAdjust="spacingAndGlyphs" stroke="#000" stroke-width="0.15">10<tspan font-size="5.8" dy="-2.7">2</tspan></text>
<text x="342.1" y="279.1" font-size="8.3" text-anchor="middle" textLength="10.9" lengthAdjust="spacingAndGlyphs" stroke="#000" stroke-width="0.15">10<tspan font-size="5.8" dy="-2.7">3</tspan></text>
<text x="366.1" y="279.1" font-size="8.3" text-anchor="middle" textLength="10.9" lengthAdjust="spacingAndGlyphs" stroke="#000" stroke-width="0.15">10<tspan font-size="5.8" dy="-2.7">4</tspan></text>
<text x="355.6" y="214.9" font-size="13" font-weight="bold" text-anchor="middle">k</text>
</g>
<g>
<path d="M388.3 266.2L388.3 266.2L388.8 266.2L389.3 266.2L389.8 266.2L390.3 265.7L390.8 265.7L391.3 265.6L391.8 265.9L392.3 266.0L392.8 265.7L393.3 265.7L393.8 265.7L394.3 265.3L394.8 265.5L395.3 265.6L395.8 265.4L396.3 265.5L396.8 265.5L397.3 265.4L397.8 265.6L398.3 264.9L398.8 265.0L399.3 265.3L399.8 265.3L400.3 265.7L400.8 265.5L401.3 265.5L401.8 265.3L402.3 265.2L402.8 265.3L403.3 265.5L403.8 265.6L404.3 265.5L404.8 265.4L405.3 265.3L405.8 265.1L406.3 265.3L406.8 265.3L407.3 265.0L407.8 265.2L408.3 264.9L408.8 265.0L409.3 265.2L409.8 265.3L410.3 265.2L410.8 265.0L411.3 265.0L411.8 265.6L412.3 265.4L412.8 265.4L413.3 265.4L413.8 265.7L414.3 265.6L414.8 265.1L415.3 265.0L415.8 265.0L416.3 264.7L416.8 264.5L417.3 264.6L417.8 264.7L418.3 264.6L418.8 265.1L419.3 265.7L419.8 265.4L420.3 264.6L420.8 264.1L421.3 264.6L421.8 264.2L422.3 263.3L422.8 263.9L423.3 264.2L423.8 264.0L424.3 263.5L424.8 263.5L425.3 263.7L425.8 263.9L426.3 264.4L426.8 263.6L427.3 263.4L427.8 263.7L428.3 263.7L428.8 263.8L429.3 263.4L429.8 263.3L430.3 263.6L430.8 262.8L431.3 262.2L431.8 262.2L432.3 262.8L432.8 262.8L433.3 261.9L433.8 262.0L434.3 262.2L434.8 261.8L435.3 261.3L435.8 262.0L436.3 261.7L436.8 261.4L437.3 260.8L437.8 260.3L438.3 260.0L438.8 259.6L439.3 258.8L439.8 257.6L440.3 256.4L440.8 255.8L441.3 254.5L441.8 252.2L442.3 252.7L442.8 252.3L443.3 251.5L443.8 249.3L444.3 247.8L444.8 247.2L445.3 247.2L445.8 246.2L446.3 244.4L446.8 245.0L447.3 245.2L447.8 242.0L448.3 240.4L448.8 239.2L449.3 238.1L449.8 238.0L450.3 237.8L450.8 235.1L451.3 234.2L451.8 234.5L452.3 233.7L452.8 233.1L453.3 232.8L453.8 234.5L454.3 237.2L454.8 234.4L455.3 234.9L455.8 235.1L456.3 235.0L456.8 235.3L457.3 232.7L457.8 234.0L458.3 233.9L458.8 233.6L459.3 234.1L459.8 235.7L460.3 238.6L460.8 243.1L461.3 246.3L461.8 247.7L462.3 249.5L462.8 249.6L463.3 253.2L463.8 255.5L464.3 256.5L464.8 258.9L465.3 259.7L465.8 260.5L466.3 262.3L466.8 263.6L467.3 263.3L467.8 263.6L468.3 264.4L468.8 264.8L469.3 264.7L469.8 264.3L470.3 264.6L470.8 264.7L471.3 264.4L471.8 265.0L472.3 264.7L472.8 264.1L473.3 264.7L473.8 265.4L474.3 265.0L474.8 264.7L475.3 264.9L475.8 265.1L476.3 265.0L476.8 265.5L477.3 265.4L477.8 265.4L478.3 265.1L478.8 265.4L479.3 265.5L479.8 265.4L480.3 265.8L480.8 265.8L481.3 265.5L481.8 265.0L482.3 265.0L482.8 265.1L483.3 265.1L483.8 265.1L484.3 266.2L484.3 266.2Z" stroke="#000" stroke-width="0.5" stroke-linejoin="round"/>
<path d="M388.3 266.2L388.8 261.5L389.3 265.3L389.8 265.4L390.3 265.2L390.8 265.3L391.3 265.3L391.8 265.1L392.3 265.2L392.8 265.4L393.3 265.3L393.8 265.1L394.3 265.0L394.8 265.0L395.3 265.0L395.8 265.2L396.3 265.2L396.8 264.6L397.3 263.8L397.8 262.7L398.3 261.6L398.8 260.8L399.3 259.4L399.8 258.2L400.3 257.4L400.8 256.3L401.3 254.1L401.8 252.7L402.3 251.9L402.8 250.3L403.3 247.0L403.8 245.2L404.3 242.8L404.8 239.8L405.3 239.4L405.8 236.2L406.3 233.2L406.8 231.4L407.3 228.6L407.8 225.3L408.3 223.5L408.8 222.2L409.3 221.7L409.8 219.8L410.3 218.0L410.8 217.3L411.3 217.9L411.8 218.7L412.3 219.8L412.8 222.7L413.3 225.3L413.8 228.3L414.3 231.7L414.8 235.0L415.3 239.8L415.8 243.5L416.3 245.7L416.8 249.0L417.3 251.2L417.8 251.1L418.3 253.6L418.8 256.6L419.3 257.8L419.8 258.9L420.3 260.0L420.8 260.7L421.3 261.3L421.8 262.0L422.3 262.3L422.8 262.3L423.3 262.7L423.8 262.7L424.3 262.8L424.8 263.0L425.3 263.1L425.8 263.3L426.3 263.4L426.8 263.4L427.3 263.7L427.8 263.5L428.3 263.4L428.8 263.5L429.3 263.8L429.8 264.3L430.3 263.9L430.8 263.8L431.3 264.5L431.8 264.5L432.3 264.7L432.8 265.0L433.3 265.4L433.8 265.7L434.3 266.2L434.8 266.2" fill="none" stroke="#000" stroke-width="1.35" stroke-linejoin="round"/>
<path d="M387.1 200.8H484.8" fill="none" stroke="#4a4a4a" stroke-width="1.25"/>
<path d="M484.3 200.8V266.2" fill="none" stroke="#505050" stroke-width="1.15"/>
<path d="M388.2 200.8V266.7" stroke="#444" stroke-width="0.85"/>
<path d="M387.8 266.2H484.8" stroke="#000" stroke-width="1.3"/>
<path d="M388.3 266.2h-4M388.3 247.4h-4M388.3 228.6h-4M388.3 209.8h-4M388.3 256.8h-1.8M388.3 238.0h-1.8M388.3 219.2h-1.8" stroke="#111" stroke-width="0.9"/>
<path d="M388.7 266.2v3.6M395.9 266.2v2M400.2 266.2v2M403.1 266.2v2M405.5 266.2v2M407.4 266.2v2M409.0 266.2v2M410.4 266.2v2M411.6 266.2v2M412.7 266.2v3.6M419.9 266.2v2M424.2 266.2v2M427.1 266.2v2M429.5 266.2v2M431.4 266.2v2M433.0 266.2v2M434.4 266.2v2M435.6 266.2v2M436.7 266.2v3.6M443.9 266.2v2M448.2 266.2v2M451.1 266.2v2M453.5 266.2v2M455.4 266.2v2M457.0 266.2v2M458.4 266.2v2M459.6 266.2v2M460.7 266.2v3.6M467.9 266.2v2M472.2 266.2v2M475.1 266.2v2M477.5 266.2v2M479.4 266.2v2M481.0 266.2v2M482.4 266.2v2M483.6 266.2v2M484.7 266.2v3.6" stroke="#111" stroke-width="0.8"/>
<text x="383.0" y="269.4" font-size="8.2" text-anchor="end" stroke="#000" stroke-width="0.18">0</text>
<text x="383.0" y="250.0" font-size="8.2" text-anchor="end" stroke="#000" stroke-width="0.18">40</text>
<text x="383.0" y="230.7" font-size="8.2" text-anchor="end" stroke="#000" stroke-width="0.18">80</text>
<text x="383.0" y="211.3" font-size="8.2" text-anchor="end" stroke="#000" stroke-width="0.18">120</text>
<text x="388.5" y="279.1" font-size="8.3" text-anchor="middle" textLength="10.9" lengthAdjust="spacingAndGlyphs" stroke="#000" stroke-width="0.15">10<tspan font-size="5.8" dy="-2.7">0</tspan></text>
<text x="412.5" y="279.1" font-size="8.3" text-anchor="middle" textLength="10.9" lengthAdjust="spacingAndGlyphs" stroke="#000" stroke-width="0.15">10<tspan font-size="5.8" dy="-2.7">1</tspan></text>
<text x="436.5" y="279.1" font-size="8.3" text-anchor="middle" textLength="10.9" lengthAdjust="spacingAndGlyphs" stroke="#000" stroke-width="0.15">10<tspan font-size="5.8" dy="-2.7">2</tspan></text>
<text x="460.5" y="279.1" font-size="8.3" text-anchor="middle" textLength="10.9" lengthAdjust="spacingAndGlyphs" stroke="#000" stroke-width="0.15">10<tspan font-size="5.8" dy="-2.7">3</tspan></text>
<text x="484.5" y="279.1" font-size="8.3" text-anchor="middle" textLength="10.9" lengthAdjust="spacingAndGlyphs" stroke="#000" stroke-width="0.15">10<tspan font-size="5.8" dy="-2.7">4</tspan></text>
<text x="474.0" y="214.9" font-size="13" font-weight="bold" text-anchor="middle">l</text>
</g>
<text x="81.3" y="10.4" font-size="9.8" text-anchor="middle" textLength="27.4" font-weight="bold" lengthAdjust="spacingAndGlyphs" stroke="#000" stroke-width="0.25">EPOR</text>
<text x="199.6" y="10.4" font-size="9.8" text-anchor="middle" textLength="56.0" font-weight="bold" lengthAdjust="spacingAndGlyphs" stroke="#000" stroke-width="0.25">EPOR/CD34</text>
<text x="318.2" y="10.4" font-size="9.8" text-anchor="middle" textLength="34.4" font-weight="bold" lengthAdjust="spacingAndGlyphs" stroke="#000" stroke-width="0.25">GCSFR</text>
<text x="437.8" y="10.4" font-size="9.8" text-anchor="middle" textLength="62.4" font-weight="bold" lengthAdjust="spacingAndGlyphs" stroke="#000" stroke-width="0.25">GCSFR/CD34</text>
<text x="488.8" y="53.4" font-size="9.8" textLength="23.5" font-weight="bold" lengthAdjust="spacingAndGlyphs" stroke="#000" stroke-width="0.25">BaF3</text>
<text x="488.8" y="147.1" font-size="9.8" textLength="17.5" font-weight="bold" lengthAdjust="spacingAndGlyphs" stroke="#000" stroke-width="0.25">32D</text>
<text x="488.8" y="237.8" font-size="9.8" textLength="30.7" font-weight="bold" lengthAdjust="spacingAndGlyphs" stroke="#000" stroke-width="0.25">FDCP1</text>
<text x="194.3" y="292.3" font-size="9.9" textLength="129" font-weight="bold" lengthAdjust="spacingAndGlyphs" stroke="#000" stroke-width="0.25">Log Fluorescence Intensity</text>
<text transform="translate(9.7 195.6) rotate(-90)" font-size="9.25" textLength="108.6" font-weight="bold" lengthAdjust="spacingAndGlyphs" stroke="#000" stroke-width="0.25">Relative Number of Cells</text>
</svg>
</body></html>
